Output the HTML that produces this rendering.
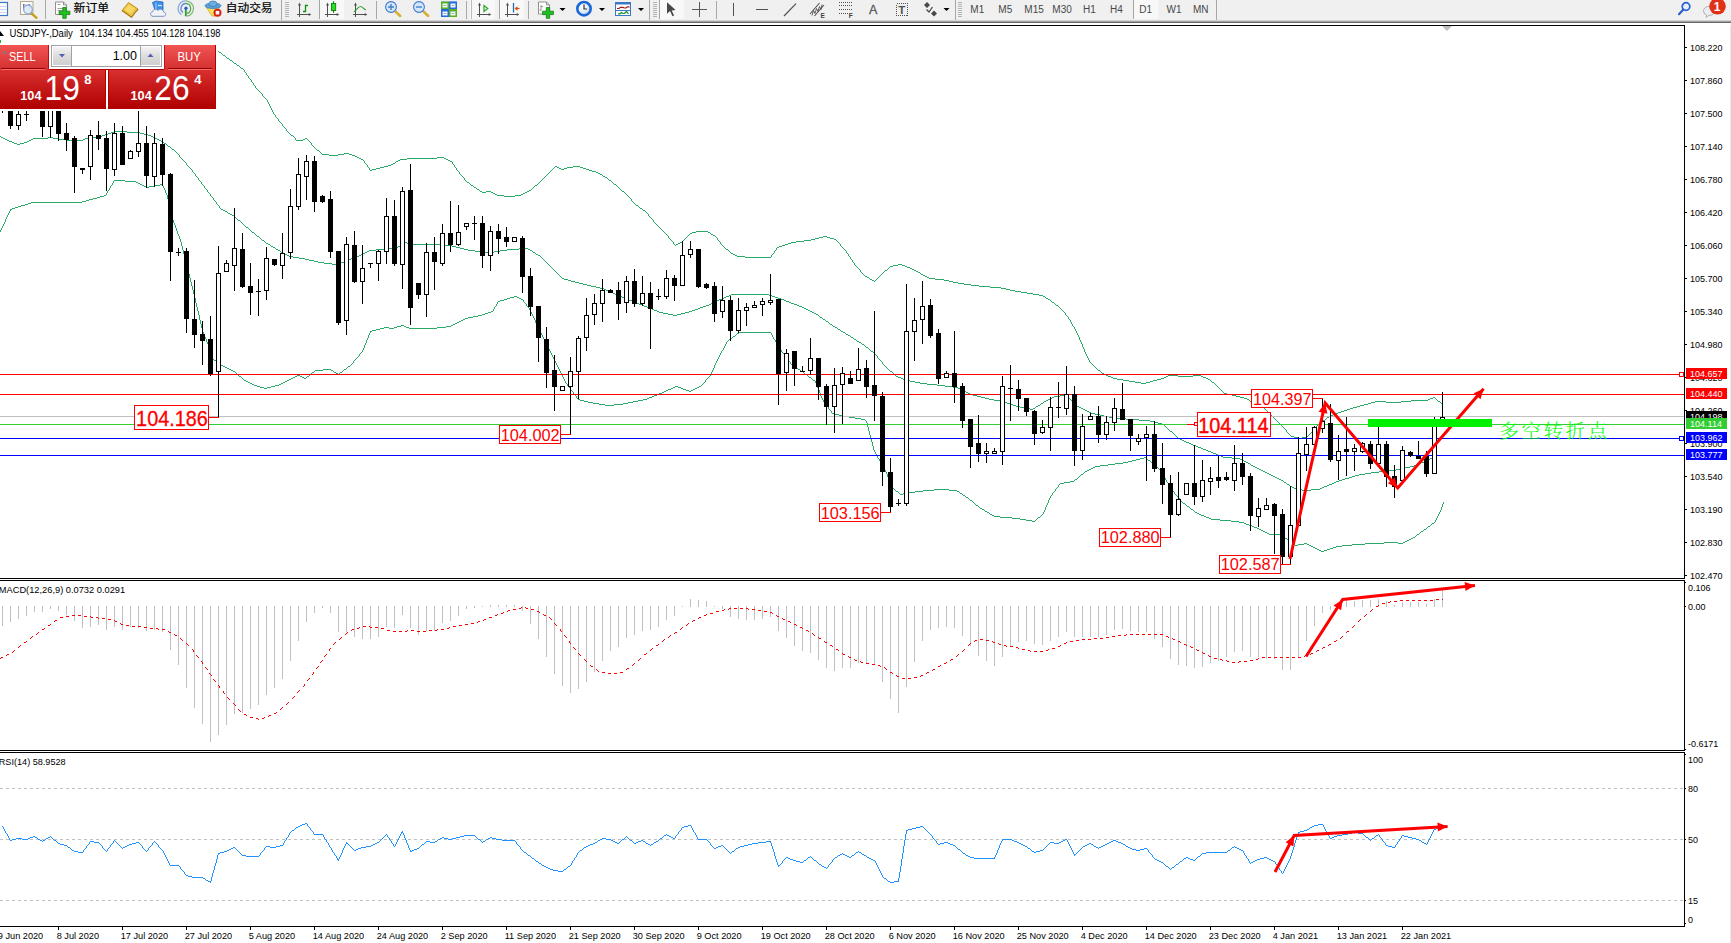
<!DOCTYPE html><html><head><meta charset="utf-8"><title>USDJPY Daily</title>
<style>html,body{margin:0;padding:0;background:#fff;overflow:hidden}body{width:1731px;height:943px;position:relative;font-family:"Liberation Sans", sans-serif}svg{position:absolute;left:0;top:0;display:block}text{font-family:"Liberation Sans", sans-serif}.cj{font-family:"Liberation Sans","Noto Sans CJK SC",sans-serif}.sj{font-family:"Liberation Serif","Noto Serif CJK SC",serif}</style></head><body>
<svg width="1731" height="943" viewBox="0 0 1731 943">
<defs>
<linearGradient id="gsell" x1="0" y1="0" x2="0" y2="1"><stop offset="0" stop-color="#f25454"/><stop offset="1" stop-color="#d32f2f"/></linearGradient>
<linearGradient id="gprice" x1="0" y1="0" x2="0" y2="1"><stop offset="0" stop-color="#d93030"/><stop offset="1" stop-color="#b00000"/></linearGradient>
<linearGradient id="gbtn" x1="0" y1="0" x2="0" y2="1"><stop offset="0" stop-color="#f4f4f4"/><stop offset="0.5" stop-color="#dcdcdc"/><stop offset="1" stop-color="#cfcfcf"/></linearGradient>
<radialGradient id="gclock" cx="0.4" cy="0.35" r="0.7"><stop offset="0" stop-color="#ffffff"/><stop offset="0.6" stop-color="#e0ecf8"/><stop offset="1" stop-color="#9ab8dc"/></radialGradient>
</defs>
<rect x="0" y="0" width="1731" height="943" fill="#fff"/>
<g shape-rendering="crispEdges">
</g>
<path d="M0 .5m215 50h3m-9 1h6m3 0h1m-15 1h5m10 0h2m-23 1h6m17 0h1m-30 1h6m24 0h1m-36 1h5m31 0h2m-44 1h6m38 0h1m-50 1h5m45 0h1m-57 1h6m51 0h2m-65 1h6m59 0h1m-71 1h5m66 0h2m-79 1h6m73 0h1m-88 1h8m80 0h1m-101 1h12m89 0h2m-114 1h11m103 0h1m-127 1h12m115 0h2m-140 1h11m129 0h1m-153 1h12m141 0h1m-166 1h12m154 0h2m-179 1h11m168 0h1m-192 1h12m180 0h1m-204 1h11m192 0h1m-216 1h12m204 0h1m-228 1h11m217 0h1m-241 1h12m228 0h1m-247 1h6m241 0h1m0 1h1m-1 1h1m0 1h1m0 1h1m0 1h1m-1 1h1m0 1h1m0 1h1m-1 1h1m0 1h1m0 1h1m-1 1h1m0 1h1m0 1h1m0 1h1m0 1h1m0 1h1m0 1h1m0 1h1m-1 1h1m0 1h1m0 1h1m0 1h1m0 1h1m0 1h1m-1 1h1m0 1h1m-1 1h1m0 1h1m-1 1h1m0 1h1m-1 1h1m0 1h1m-1 1h1m0 1h1m-1 1h1m0 1h1m-1 1h1m0 1h1m0 1h1m-1 1h1m0 1h1m0 1h1m0 1h1m-1 1h1m0 1h1m0 1h1m0 1h1m0 1h1m-1 1h1m0 1h1m0 1h1m0 1h1m0 1h1m-1 1h1m0 1h1m0 1h1m0 1h1m0 1h1m0 1h2m0 1h1m0 1h1m0 1h1m9 0h2m-12 1h1m7 0h2m2 0h1m-12 1h7m5 0h1m0 1h1m0 1h1m0 1h1m-1 1h1m0 1h1m0 1h1m0 1h1m0 1h1m0 1h1m0 1h2m0 1h1m0 1h1m0 1h1m22 0h5m-27 1h7m9 0h6m5 0h3m-23 1h9m14 0h3m0 1h2m0 1h2m78 0h7m-85 1h2m46 0h30m7 0h2m-85 1h2m37 0h7m39 0h2m-85 1h1m34 0h2m48 0h2m-86 1h1m31 0h2m52 0h2m-88 1h1m30 0h1m56 0h1m-88 1h1m27 0h2m57 0h1m-87 1h1m24 0h2m60 0h1m-87 1h1m20 0h3m63 0h1m-88 1h1m16 0h4m66 0h1m100 0h2m16 0h7m-212 1h1m11 0h4m71 0h1m98 0h1m2 0h2m8 0h6m7 0h3m-214 1h1m6 0h4m76 0h1m96 0h1m5 0h2m3 0h3m16 0h3m-217 1h1m2 0h4m80 0h1m95 0h1m8 0h3m22 0h3m-219 1h2m85 0h1m93 0h1m37 0h3m-134 1h1m91 0h1m41 0h4m-137 1h1m89 0h1m46 0h2m-139 1h1m88 0h1m49 0h2m-140 1h1m86 0h1m52 0h2m-141 1h1m84 0h1m55 0h1m-141 1h1m82 0h1m57 0h2m-142 1h1m80 0h1m60 0h2m-143 1h1m78 0h1m63 0h1m-144 1h1m77 0h1m65 0h1m-144 1h1m75 0h1m67 0h2m-145 1h1m73 0h1m70 0h1m-145 1h2m70 0h1m72 0h1m-144 1h1m68 0h1m74 0h1m-144 1h1m66 0h1m76 0h2m-145 1h2m62 0h2m79 0h1m-144 1h1m60 0h1m82 0h1m-144 1h2m57 0h1m84 0h1m-143 1h1m55 0h1m86 0h1m-143 1h2m52 0h1m88 0h1m-142 1h1m49 0h2m90 0h1m-142 1h2m4 0h5m36 0h2m93 0h2m-142 1h4m5 0h2m32 0h2m97 0h1m-132 1h2m28 0h2m100 0h1m-131 1h2m24 0h2m103 0h1m-130 1h7m11 0h6m106 0h1m-124 1h11m113 0h1m0 1h1m0 1h1m0 1h1m-1 1h1m0 1h1m0 1h1m0 1h1m0 1h1m0 1h2m0 1h1m0 1h1m0 1h2m0 1h1m0 1h2m0 1h1m0 1h1m0 1h1m0 1h1m-1 1h1m0 1h1m0 1h1m0 1h1m0 1h1m0 1h1m-1 1h1m0 1h1m0 1h1m0 1h1m0 1h1m0 1h1m0 1h1m0 1h1m0 1h1m0 1h1m0 1h1m32 0h12m-44 1h1m27 0h4m12 0h2m-45 1h1m24 0h2m18 0h1m-45 1h1m22 0h1m21 0h2m-46 1h1m20 0h1m24 0h2m-47 1h1m18 0h1m27 0h1m107 0h4m-159 1h1m17 0h1m29 0h1m102 0h4m4 0h3m-161 1h1m15 0h1m31 0h1m97 0h4m11 0h4m-164 1h1m13 0h1m32 0h1m93 0h4m19 0h2m-165 1h1m11 0h1m34 0h1m85 0h7m25 0h1m-165 1h1m9 0h1m36 0h1m76 0h8m33 0h1m-165 1h1m6 0h2m38 0h1m70 0h5m42 0h1m-166 1h1m4 0h2m40 0h1m67 0h3m48 0h1m-166 1h1m1 0h2m43 0h1m63 0h3m52 0h1m-166 1h1m46 0h1m59 0h3m55 0h1m-118 1h1m55 0h3m59 0h1m-118 1h1m52 0h2m63 0h1m-118 1h1m50 0h1m66 0h1m-118 1h2m48 0h1m67 0h1m-117 1h1m46 0h1m69 0h1m-117 1h1m44 0h1m71 0h1m-117 1h1m43 0h1m71 0h1m-116 1h2m40 0h1m73 0h1m-115 1h2m37 0h1m75 0h1m-114 1h2m34 0h1m76 0h1m-112 1h8m26 0h1m77 0h1m-105 1h26m79 0h1m-1 1h1m0 1h1m0 1h1m-1 1h1m0 1h1m0 1h1m-1 1h1m43 0h4m-47 1h1m37 0h5m4 0h3m-49 1h1m33 0h3m12 0h2m-50 1h1m31 0h1m17 0h3m-52 1h1m29 0h1m21 0h2m-53 1h1m27 0h1m24 0h2m-54 1h1m24 0h2m27 0h2m-56 1h1m23 0h1m31 0h2m-57 1h1m21 0h1m34 0h2m-58 1h1m19 0h1m37 0h1m-58 1h1m17 0h1m39 0h2m-59 1h1m15 0h1m42 0h2m-60 1h2m12 0h1m45 0h2m-60 1h2m9 0h1m48 0h2m-60 1h1m7 0h1m51 0h6m-65 1h2m4 0h1m58 0h9m-72 1h2m1 0h1m68 0h5m-75 1h1m74 0h4m0 1h5m0 1h6m0 1h7m0 1h8m0 1h11m0 1h11m0 1h5m0 1h4m0 1h5m0 1h6m0 1h6m0 1h6m0 1h6m0 1h4m0 1h2m0 1h1m0 1h2m0 1h2m0 1h1m0 1h1m0 1h2m0 1h1m0 1h1m0 1h2m0 1h1m0 1h1m0 1h1m0 1h1m0 1h1m0 1h1m0 1h1m0 1h1m-1 1h1m0 1h1m0 1h1m0 1h1m-1 1h1m0 1h1m0 1h1m-1 1h1m0 1h1m-1 1h1m0 1h1m-1 1h1m0 1h1m0 1h1m-1 1h1m0 1h1m-1 1h1m0 1h1m-1 1h1m0 1h1m-1 1h1m0 1h1m-1 1h1m0 1h1m-1 1h1m-1 1h1m0 1h1m-1 1h1m0 1h1m-1 1h1m0 1h1m-1 1h1m-1 1h1m0 1h1m-1 1h1m0 1h1m-1 1h1m-1 1h1m0 1h1m-1 1h1m0 1h1m-1 1h1m0 1h1m-1 1h1m0 1h1m-1 1h1m0 1h1m-1 1h1m0 1h1m0 1h1m0 1h1m0 1h1m0 1h1m0 1h1m0 1h1m0 1h1m0 1h2m0 1h1m0 1h1m0 1h2m0 1h2m0 1h2m60 0h10m15 0h8m-93 1h3m55 0h2m10 0h15m8 0h2m-92 1h2m51 0h2m37 0h3m-93 1h4m44 0h3m42 0h2m-91 1h6m34 0h4m47 0h2m-87 1h6m24 0h4m53 0h1m-82 1h6m15 0h3m58 0h1m-77 1h6m5 0h4m62 0h2m-73 1h5m68 0h1m0 1h1m0 1h1m0 1h1m0 1h1m0 1h1m0 1h1m0 1h1m0 1h1m0 1h1m0 1h3m0 1h5m0 1h4m0 1h4m0 1h4m189 0h2m-191 1h3m183 0h3m2 0h1m-189 1h2m179 0h2m6 0h1m-188 1h1m161 0h17m9 0h1m-188 1h2m123 0h11m15 0h10m27 0h2m-188 1h2m117 0h4m11 0h15m39 0h1m-187 1h2m112 0h3m70 0h1m-186 1h4m104 0h4m74 0h1m-183 1h2m98 0h4m-102 1h1m94 0h3m-97 1h1m89 0h4m-93 1h1m85 0h3m-88 1h1m81 0h3m-84 1h1m77 0h3m-80 1h1m73 0h3m-76 1h1m69 0h3m-72 1h1m65 0h3m-68 1h1m62 0h2m-64 1h1m59 0h2m-61 1h1m56 0h2m-58 1h1m53 0h2m-55 1h1m51 0h1m-52 1h1m49 0h1m-50 1h1m46 0h2m-48 1h1m44 0h1m-45 1h1m42 0h1m-43 1h1m40 0h1m-41 1h1m37 0h2m-39 1h1m35 0h1m-36 1h1m33 0h1m-34 1h1m31 0h1m-32 1h1m29 0h1m-30 1h1m27 0h1m-28 1h1m25 0h1m-27 1h1m25 0h1m-26 1h1m23 0h1m-24 1h1m21 0h1m-22 1h1m19 0h1m-20 1h1m17 0h1m-18 1h3m12 0h2m-14 1h4m4 0h4m-8 1h4" fill="none" stroke="#2aa868" stroke-width="1" shape-rendering="crispEdges"/>
<path d="M0 .5m114 131h13m-16 1h3m13 0h13m-32 1h3m29 0h4m-39 1h3m36 0h4m-46 1h3m43 0h3m-151 1h1m96 0h5m49 0h2m-152 1h2m45 0h5m37 0h7m56 0h2m-152 1h2m28 0h15m5 0h6m26 0h5m65 0h2m-152 1h2m24 0h2m26 0h7m17 0h2m72 0h2m-152 1h2m20 0h2m35 0h17m76 0h2m-152 1h3m15 0h2m132 0h2m-151 1h2m10 0h3m136 0h1m-150 1h3m3 0h4m140 0h2m-149 1h3m146 0h1m0 1h1m0 1h2m0 1h1m0 1h1m0 1h2m0 1h1m0 1h1m0 1h1m0 1h1m0 1h1m0 1h1m-1 1h1m0 1h1m0 1h1m0 1h1m0 1h1m0 1h1m0 1h1m0 1h1m-1 1h1m0 1h1m0 1h1m0 1h1m0 1h1m0 1h1m0 1h1m-1 1h1m0 1h1m0 1h1m0 1h1m-1 1h1m0 1h1m0 1h1m0 1h1m-1 1h1m0 1h1m0 1h1m0 1h1m-1 1h1m0 1h1m0 1h1m0 1h1m-1 1h1m0 1h1m0 1h1m0 1h1m-1 1h1m0 1h1m0 1h1m0 1h1m-1 1h1m0 1h1m0 1h1m0 1h1m-1 1h1m0 1h1m0 1h1m0 1h1m-1 1h1m0 1h1m0 1h1m0 1h1m-1 1h1m0 1h1m0 1h2m0 1h2m0 1h2m0 1h1m0 1h2m0 1h2m0 1h2m0 1h1m0 1h1m0 1h1m0 1h1m0 1h2m0 1h1m0 1h1m0 1h1m0 1h1m0 1h1m0 1h1m0 1h2m0 1h1m0 1h1m0 1h1m0 1h1m0 1h2m0 1h1m0 1h1m0 1h1m0 1h2m0 1h1m0 1h1m0 1h1m0 1h2m0 1h1m0 1h1m139 0h2m-141 1h2m135 0h2m2 0h4m-143 1h2m131 0h2m8 0h30m-171 1h1m129 0h1m40 0h11m-181 1h2m125 0h2m52 0h4m-183 1h2m121 0h2m58 0h4m-185 1h1m113 0h7m64 0h4m55 0h9m-252 1h2m98 0h13m75 0h4m39 0h12m9 0h2m-252 1h2m89 0h7m92 0h7m25 0h7m23 0h2m-252 1h1m86 0h2m106 0h10m9 0h6m32 0h1m-252 1h2m82 0h2m118 0h9m39 0h2m-252 1h2m78 0h2m170 0h1m-251 1h2m74 0h2m173 0h2m-251 1h2m70 0h2m177 0h2m-251 1h4m64 0h2m181 0h1m-248 1h6m55 0h3m184 0h1m-243 1h6m46 0h3m188 0h1m-238 1h4m40 0h2m192 0h1m-235 1h5m32 0h3m195 0h1m-231 1h4m26 0h2m199 0h1m-228 1h6m17 0h3m202 0h1m-223 1h8m5 0h4m206 0h1m-216 1h5m211 0h1m0 1h1m0 1h1m0 1h1m0 1h1m0 1h1m0 1h1m0 1h1m0 1h1m0 1h1m0 1h1m0 1h1m0 1h1m0 1h1m0 1h2m0 1h4m0 1h3m0 1h4m0 1h4m0 1h4m0 1h4m0 1h4m0 1h5m0 1h4m0 1h4m0 1h2m0 1h2m0 1h2m0 1h3m0 1h2m0 1h2m114 0h38m-152 1h2m110 0h2m38 0h3m-153 1h3m104 0h3m43 0h3m-153 1h2m100 0h2m49 0h3m-154 1h3m95 0h2m54 0h3m-154 1h2m90 0h3m59 0h3m-155 1h3m85 0h2m65 0h2m-154 1h2m81 0h2m69 0h3m-155 1h3m76 0h2m74 0h2m-154 1h2m72 0h2m78 0h3m-155 1h3m67 0h2m83 0h3m-155 1h2m62 0h3m88 0h2m-155 1h3m56 0h3m93 0h3m-155 1h2m51 0h3m99 0h2m-155 1h3m46 0h2m104 0h2m-154 1h2m41 0h3m108 0h2m-154 1h3m35 0h3m113 0h2m-153 1h2m30 0h3m118 0h2m-153 1h4m22 0h4m123 0h2m-151 1h5m13 0h4m129 0h2m-148 1h5m4 0h4m135 0h2m-145 1h4m141 0h1m0 1h1m0 1h2m0 1h1m0 1h2m0 1h1m0 1h2m0 1h1m0 1h1m0 1h2m0 1h1m0 1h2m0 1h2m0 1h1m0 1h2m0 1h1m0 1h2m0 1h2m0 1h1m0 1h2m0 1h2m0 1h1m0 1h2m0 1h1m0 1h2m0 1h1m0 1h2m0 1h2m0 1h1m0 1h2m0 1h1m0 1h1m0 1h2m0 1h1m0 1h1m0 1h1m0 1h2m0 1h1m0 1h1m0 1h1m0 1h1m0 1h1m-1 1h1m0 1h1m0 1h1m0 1h1m0 1h1m0 1h1m-1 1h1m0 1h1m0 1h1m0 1h1m0 1h1m0 1h1m0 1h1m0 1h1m0 1h2m0 1h1m0 1h1m0 1h1m0 1h1m0 1h2m0 1h3m0 1h2m0 1h3m0 1h4m0 1h5m0 1h5m0 1h7m0 1h10m0 1h8m0 1h8m0 1h5m0 1h2m0 1h2m0 1h2m0 1h2m0 1h2m0 1h2m0 1h3m0 1h4m83 0h7m-90 1h4m73 0h6m7 0h1m-87 1h4m67 0h2m14 0h1m-84 1h4m61 0h2m17 0h1m-81 1h5m54 0h2m20 0h1m-77 1h6m46 0h2m23 0h1m-72 1h4m40 0h2m26 0h1m-69 1h3m36 0h1m29 0h1m-67 1h3m31 0h2m31 0h1m-65 1h3m27 0h1m34 0h1m-63 1h3m22 0h2m36 0h1m-61 1h4m16 0h2m39 0h2m-59 1h5m10 0h1m43 0h2m-56 1h5m3 0h2m46 0h2m-53 1h3m50 0h2m0 1h2m0 1h2m0 1h2m0 1h4m0 1h5m0 1h4m0 1h5m0 1h7m0 1h10m0 1h13m0 1h11m0 1h4m0 1h4m0 1h4m0 1h2m0 1h1m0 1h1m0 1h1m0 1h1m0 1h1m0 1h1m0 1h2m0 1h1m0 1h1m0 1h1m0 1h1m0 1h1m0 1h1m0 1h2m0 1h2m0 1h2m0 1h2m0 1h3m0 1h2m0 1h2m0 1h3m0 1h2m0 1h3m0 1h2m0 1h3m0 1h2m0 1h3m0 1h2m0 1h3m0 1h2m0 1h3m215 0h7m-222 1h2m211 0h2m-213 1h9m200 0h2m-202 1h8m190 0h2m-192 1h2m186 0h2m-188 1h2m182 0h2m-184 1h2m178 0h2m-180 1h2m173 0h3m-176 1h2m169 0h2m-171 1h1m165 0h3m-168 1h2m161 0h2m-163 1h2m155 0h4m-159 1h2m148 0h5m-153 1h2m142 0h4m-146 1h2m135 0h5m-140 1h2m126 0h7m-133 1h2m114 0h10m-124 1h2m104 0h8m-112 1h2m96 0h6m-102 1h2m88 0h6m-94 1h2m82 0h4m-86 1h2m77 0h3m-80 1h2m72 0h3m-75 1h2m66 0h4m-70 1h2m61 0h3m-64 1h2m56 0h3m-59 1h1m52 0h3m-55 1h2m48 0h2m-50 1h1m45 0h2m-47 1h2m40 0h3m-43 1h1m37 0h2m-39 1h2m32 0h3m-35 1h2m28 0h2m-30 1h4m22 0h2m-24 1h4m9 0h9m-18 1h9" fill="none" stroke="#2aa868" stroke-width="1" shape-rendering="crispEdges"/>
<path d="M0 .5m114 180h11m-12 1h1m11 0h11m-23 1h1m22 0h2m-26 1h1m25 0h2m-28 1h1m27 0h2m18 0h3m-52 1h1m30 0h2m10 0h6m2 0h1m-53 1h1m33 0h2m3 0h5m9 0h1m-54 1h1m35 0h3m14 0h1m-55 1h1m54 0h1m-56 1h1m54 0h1m-57 1h1m56 0h1m-59 1h1m57 0h1m-59 1h1m57 0h1m-60 1h1m59 0h1m-61 1h1m59 0h1m-63 1h2m61 0h1m-68 1h4m63 0h1m-71 1h3m67 0h1m-75 1h4m70 0h1m-79 1h4m75 0h1m-83 1h3m79 0h1m-87 1h4m82 0h1m-138 1h51m86 0h1m-141 1h3m138 0h1m-145 1h3m141 0h1m-149 1h4m144 0h1m-152 1h3m148 0h1m-155 1h3m152 0h1m-159 1h3m155 0h1m-161 1h2m158 0h1m-161 1h1m159 0h1m-162 1h1m160 0h1m-162 1h1m161 0h1m-164 1h1m162 0h1m-164 1h1m162 0h1m-165 1h1m163 0h1m-165 1h1m164 0h1m-167 1h1m165 0h1m-167 1h1m165 0h1m-168 1h1m166 0h1m-168 1h1m167 0h1m-169 1h1m167 0h1m-170 1h1m168 0h1m-170 1h1m169 0h1m-172 1h1m170 0h1m-172 1h1m171 0h1m-174 1h1m172 0h1m-174 1h1m172 0h1m-175 1h1m174 0h1m-176 1h1m174 0h1m-177 1h1m175 0h1m-177 1h1m176 0h1m-1 1h1m-1 1h1m0 1h1m-1 1h1m0 1h1m-1 1h1m-1 1h1m0 1h1m-1 1h1m-1 1h1m0 1h1m-1 1h1m-1 1h1m-1 1h1m0 1h1m-1 1h1m-1 1h1m-1 1h1m0 1h1m-1 1h1m-1 1h1m-1 1h1m0 1h1m-1 1h1m-1 1h1m-1 1h1m0 1h1m-1 1h1m-1 1h1m-1 1h1m0 1h1m-1 1h1m-1 1h1m-1 1h1m0 1h1m-1 1h1m-1 1h1m-1 1h1m0 1h1m-1 1h1m-1 1h1m-1 1h1m0 1h1m-1 1h1m-1 1h1m-1 1h1m0 1h1m-1 1h1m-1 1h1m-1 1h1m0 1h1m-1 1h1m-1 1h1m-1 1h1m0 1h1m-1 1h1m-1 1h1m-1 1h1m0 1h1m-1 1h1m-1 1h1m-1 1h1m0 1h1m-1 1h1m-1 1h1m319 0h3m-323 1h1m315 0h4m3 0h2m-324 1h1m311 0h3m9 0h2m-326 1h1m308 0h3m14 0h2m-328 1h1m304 0h4m19 0h1m-329 1h1m302 0h2m23 0h1m-329 1h1m301 0h1m26 0h1m-329 1h1m300 0h1m27 0h1m-330 1h1m299 0h1m29 0h1m-331 1h1m299 0h1m29 0h1m-331 1h1m298 0h1m31 0h1m-331 1h1m296 0h1m33 0h1m-332 1h1m296 0h1m34 0h1m-333 1h1m295 0h1m35 0h1m-333 1h1m295 0h1m36 0h1m-333 1h1m292 0h2m37 0h1m-333 1h1m289 0h3m40 0h1m-334 1h1m286 0h3m43 0h1m-334 1h1m283 0h3m47 0h1m-334 1h1m278 0h4m50 0h1m-334 1h1m273 0h5m55 0h1m-335 1h1m268 0h5m60 0h1m-335 1h1m265 0h3m66 0h1m-336 1h1m263 0h2m69 0h1m-335 1h1m260 0h2m72 0h1m-336 1h1m258 0h2m74 0h1m-336 1h1m256 0h2m76 0h1m-336 1h1m254 0h2m79 0h1m-336 1h1m251 0h2m81 0h1m-336 1h1m199 0h3m47 0h2m84 0h1m-337 1h1m195 0h4m3 0h2m40 0h5m86 0h1m-337 1h1m182 0h5m5 0h3m9 0h3m28 0h9m92 0h1m-337 1h1m177 0h4m5 0h5m15 0h28m101 0h1m-337 1h1m173 0h4m159 0h1m-338 1h1m169 0h4m163 0h1m-338 1h1m167 0h2m168 0h1m-338 1h1m166 0h1m169 0h1m198 0h32m-568 1h1m165 0h1m171 0h1m195 0h2m32 0h1m-568 1h1m164 0h1m171 0h1m194 0h1m34 0h1m-568 1h1m163 0h1m173 0h1m192 0h1m36 0h1m-569 1h1m163 0h1m173 0h1m190 0h2m37 0h1m-568 1h1m162 0h1m174 0h1m188 0h1m40 0h1m-569 1h1m161 0h1m175 0h1m187 0h1m41 0h1m-568 1h1m160 0h1m176 0h1m184 0h2m43 0h1m-569 1h1m159 0h1m177 0h1m183 0h1m46 0h1m-570 1h1m159 0h1m178 0h1m181 0h1m47 0h1m-569 1h1m158 0h1m178 0h1m180 0h1m49 0h1m-570 1h1m157 0h1m180 0h1m179 0h1m49 0h1m-569 1h1m156 0h1m180 0h1m178 0h1m51 0h1m-570 1h1m155 0h1m182 0h1m177 0h1m51 0h1m-570 1h1m155 0h1m182 0h1m176 0h1m53 0h1m-570 1h1m154 0h1m183 0h1m175 0h1m53 0h1m-570 1h1m153 0h1m184 0h1m174 0h1m55 0h1m-571 1h1m153 0h1m185 0h1m173 0h1m56 0h1m-571 1h1m151 0h1m186 0h1m172 0h1m58 0h1m-572 1h1m151 0h1m187 0h1m170 0h1m59 0h1m-572 1h1m150 0h1m188 0h1m170 0h1m60 0h1m-573 1h1m149 0h1m190 0h1m168 0h1m62 0h1m-573 1h1m147 0h1m191 0h1m168 0h1m63 0h1m-574 1h1m147 0h1m192 0h1m166 0h1m64 0h1m-574 1h1m146 0h1m193 0h1m166 0h1m65 0h1m-574 1h1m144 0h1m195 0h1m164 0h1m67 0h1m-575 1h1m143 0h1m196 0h1m164 0h1m68 0h1m-575 1h1m141 0h1m198 0h1m162 0h1m69 0h1m-574 1h2m138 0h1m199 0h1m162 0h1m70 0h1m-573 1h1m136 0h1m201 0h1m160 0h1m72 0h1m-573 1h1m135 0h1m201 0h1m160 0h1m73 0h1m-573 1h2m132 0h1m203 0h1m158 0h1m74 0h1m-571 1h1m130 0h1m204 0h1m158 0h1m75 0h1m-571 1h2m127 0h1m206 0h1m156 0h1m77 0h1m-570 1h2m123 0h2m207 0h1m156 0h1m78 0h2m-570 1h2m120 0h1m210 0h1m155 0h1m80 0h1m-569 1h2m117 0h1m211 0h1m154 0h1m82 0h2m-569 1h2m92 0h8m13 0h2m213 0h1m153 0h1m84 0h2m-569 1h2m82 0h8m8 0h2m10 0h1m215 0h1m152 0h1m87 0h1m-568 1h2m79 0h1m18 0h1m8 0h1m217 0h1m151 0h1m88 0h2m-568 1h1m76 0h2m20 0h2m4 0h2m218 0h1m150 0h1m91 0h1m-568 1h1m74 0h1m24 0h2m1 0h1m221 0h1m149 0h1m92 0h1m-568 1h1m72 0h1m27 0h1m222 0h1m148 0h1m94 0h2m-569 1h1m58 0h3m9 0h1m252 0h1m147 0h1m96 0h1m-569 1h2m54 0h2m3 0h2m5 0h2m253 0h1m146 0h1m98 0h1m-568 1h1m51 0h2m7 0h2m2 0h1m256 0h1m144 0h1m100 0h2m-569 1h1m48 0h2m11 0h2m257 0h1m143 0h1m103 0h1m-569 1h1m45 0h2m273 0h1m141 0h1m105 0h1m-569 1h2m41 0h2m275 0h1m140 0h1m107 0h2m-569 1h2m37 0h2m278 0h1m139 0h1m109 0h1m-568 1h2m33 0h2m280 0h1m138 0h1m110 0h1m-566 1h2m29 0h2m283 0h1m136 0h1m112 0h1m-565 1h2m25 0h2m286 0h1m134 0h1m113 0h1m-563 1h3m18 0h4m288 0h1m133 0h1m115 0h1m-561 1h3m11 0h4m293 0h1m106 0h3m21 0h2m116 0h1m-558 1h4m3 0h4m298 0h1m103 0h2m3 0h3m16 0h2m118 0h1m-554 1h3m303 0h1m100 0h2m8 0h2m12 0h2m121 0h1m-249 1h1m97 0h3m12 0h3m7 0h2m123 0h1m-248 1h1m94 0h2m18 0h3m2 0h2m126 0h1m-248 1h1m91 0h2m23 0h2m128 0h1m-247 1h1m88 0h2m155 0h1m-247 1h1m85 0h3m158 0h1m-247 1h1m82 0h2m161 0h1m-246 1h1m78 0h3m163 0h1m-245 1h1m75 0h2m167 0h1m-246 1h1m72 0h3m169 0h1m-245 1h1m69 0h2m173 0h1m-245 1h2m63 0h4m175 0h1m-243 1h4m54 0h5m180 0h1m-240 1h4m45 0h5m185 0h1m-236 1h5m35 0h5m191 0h1m-232 1h6m24 0h5m197 0h1m-227 1h6m9 0h9m203 0h1m-222 1h9m212 0h1m0 1h1m0 1h1m-1 1h1m0 1h1m0 1h1m0 1h1m-1 1h1m0 1h3m0 1h4m0 1h4m0 1h6m0 1h6m0 1h6m0 1h4m0 1h1m0 1h1m-1 1h1m0 1h1m-1 1h1m-1 1h1m-1 1h1m0 1h1m-1 1h1m-1 1h1m-1 1h1m0 1h1m-1 1h1m-1 1h1m-1 1h1m0 1h1m-1 1h1m-1 1h1m0 1h1m-1 1h1m-1 1h1m-1 1h1m0 1h1m-1 1h1m-1 1h1m-1 1h1m0 1h1m-1 1h1m-1 1h1m-1 1h1m0 1h1m-1 1h1m0 1h1m-1 1h1m0 1h1m-1 1h1m0 1h1m-1 1h1m266 0h2m-268 1h1m261 0h4m2 0h1m-268 1h1m256 0h4m7 0h1m-269 1h1m252 0h4m12 0h2m-270 1h1m247 0h4m18 0h1m-271 1h1m242 0h5m23 0h1m-271 1h1m233 0h8m29 0h1m-271 1h1m225 0h7m38 0h1m-272 1h1m217 0h8m46 0h1m-272 1h1m211 0h5m55 0h1m-273 1h1m209 0h2m61 0h2m-274 1h1m206 0h2m65 0h1m-275 1h1m204 0h2m68 0h1m-275 1h1m201 0h2m71 0h1m-276 1h1m199 0h2m74 0h1m-276 1h1m197 0h1m76 0h1m-276 1h1m196 0h1m78 0h1m-276 1h1m193 0h2m79 0h1m-276 1h1m192 0h1m82 0h1m-277 1h1m191 0h1m83 0h1m-276 1h1m189 0h1m85 0h1m-277 1h1m188 0h1m87 0h1m-277 1h1m185 0h2m88 0h1m-277 1h1m184 0h1m91 0h1m-277 1h1m179 0h4m92 0h1m-277 1h1m173 0h6m97 0h1m-278 1h1m169 0h4m104 0h1m-278 1h1m167 0h1m108 0h1m-278 1h1m166 0h1m110 0h1m-278 1h1m165 0h1m110 0h1m-278 1h1m164 0h1m112 0h1m-278 1h1m162 0h1m113 0h1m-277 1h1m39 0h15m106 0h1m115 0h1m-277 1h1m27 0h11m15 0h8m98 0h1m116 0h1m-277 1h2m17 0h8m34 0h2m95 0h1m118 0h1m-276 1h1m10 0h6m44 0h1m93 0h1m120 0h1m-276 1h1m3 0h6m51 0h2m90 0h1m121 0h1m-275 1h3m59 0h1m89 0h1m122 0h1m-213 1h2m86 0h1m124 0h1m-212 1h1m84 0h1m126 0h1m-212 1h2m82 0h1m127 0h1m-211 1h1m80 0h1m129 0h1m-211 1h1m79 0h1m129 0h1m-210 1h2m76 0h1m131 0h1m-209 1h1m75 0h1m132 0h1m-209 1h1m74 0h1m133 0h1m260 0h1m-470 1h1m72 0h1m135 0h2m258 0h1m-469 1h1m71 0h1m137 0h1m256 0h1m-467 1h2m68 0h1m139 0h1m255 0h1m-465 1h1m67 0h1m140 0h2m253 0h1m-464 1h1m65 0h1m143 0h1m251 0h1m-462 1h2m63 0h1m144 0h1m250 0h1m-460 1h2m61 0h1m145 0h2m248 0h1m-458 1h1m59 0h1m148 0h1m246 0h1m-456 1h2m57 0h1m149 0h1m245 0h1m-454 1h2m54 0h1m151 0h2m242 0h1m-451 1h1m53 0h1m153 0h2m240 0h1m-450 1h2m50 0h1m156 0h2m237 0h1m-447 1h2m47 0h1m159 0h3m234 0h1m-445 1h6m40 0h1m163 0h2m231 0h1m-438 1h12m26 0h2m166 0h3m228 0h1m-426 1h8m17 0h1m171 0h2m225 0h1m-417 1h6m10 0h1m174 0h9m216 0h1m-411 1h6m3 0h1m184 0h11m204 0h1m-404 1h3m196 0h8m196 0h1m-197 1h5m190 0h1m-191 1h2m186 0h2m-188 1h3m182 0h1m-183 1h3m178 0h1m-179 1h2m174 0h2m-176 1h3m170 0h1m-171 1h2m167 0h1m-168 1h2m163 0h2m-165 1h2m160 0h1m-161 1h2m156 0h2m-158 1h2m153 0h1m-154 1h2m150 0h1m-151 1h12m136 0h2m-138 1h2m133 0h1m-134 1h1m131 0h1m-132 1h1m128 0h2m-130 1h2m124 0h2m-126 1h1m121 0h2m-123 1h1m118 0h2m-120 1h2m114 0h2m-116 1h1m92 0h14m5 0h2m-113 1h1m11 0h3m58 0h19m14 0h5m-110 1h2m3 0h6m3 0h2m43 0h13m-70 1h3m11 0h2m31 0h10m-41 1h2m23 0h6m-29 1h2m18 0h3m-21 1h2m13 0h3m-16 1h2m8 0h3m-11 1h2m3 0h3m-6 1h3" fill="none" stroke="#2aa868" stroke-width="1" shape-rendering="crispEdges"/>
<g shape-rendering="crispEdges">
<rect x="0" y="374" width="1684" height="1" fill="#ff0000"/>
<rect x="0" y="394" width="1684" height="1" fill="#ff0000"/>
<rect x="0" y="416" width="1684" height="1" fill="#c0c0c0"/>
<rect x="0" y="424" width="1684" height="1" fill="#32cd32"/>
<rect x="0" y="438" width="1684" height="1" fill="#0000ff"/>
<rect x="0" y="455" width="1684" height="1" fill="#0000ff"/>
<rect x="2" y="100" width="1" height="13" fill="#000"/>
<rect x="0" y="100" width="5" height="1" fill="#000"/>
<rect x="10" y="100" width="1" height="29" fill="#000"/>
<rect x="8" y="100" width="5" height="26" fill="#000"/>
<rect x="18" y="111" width="1" height="19" fill="#000"/>
<rect x="16" y="114" width="5" height="12" fill="#000"/>
<rect x="17" y="115" width="3" height="10" fill="#fff"/>
<rect x="26" y="100" width="1" height="21" fill="#000"/>
<rect x="24" y="114" width="5" height="1" fill="#000"/>
<rect x="42" y="100" width="1" height="37" fill="#000"/>
<rect x="40" y="100" width="5" height="27" fill="#000"/>
<rect x="50" y="100" width="1" height="38" fill="#000"/>
<rect x="48" y="100" width="5" height="27" fill="#000"/>
<rect x="49" y="101" width="3" height="25" fill="#fff"/>
<rect x="58" y="100" width="1" height="41" fill="#000"/>
<rect x="56" y="100" width="5" height="34" fill="#000"/>
<rect x="66" y="123" width="1" height="28" fill="#000"/>
<rect x="64" y="133" width="5" height="7" fill="#000"/>
<rect x="74" y="136" width="1" height="57" fill="#000"/>
<rect x="72" y="138" width="5" height="29" fill="#000"/>
<rect x="82" y="168" width="1" height="6" fill="#000"/>
<rect x="80" y="168" width="5" height="2" fill="#000"/>
<rect x="90" y="130" width="1" height="50" fill="#000"/>
<rect x="88" y="135" width="5" height="32" fill="#000"/>
<rect x="89" y="136" width="3" height="30" fill="#fff"/>
<rect x="98" y="121" width="1" height="29" fill="#000"/>
<rect x="96" y="135" width="5" height="4" fill="#000"/>
<rect x="106" y="131" width="1" height="60" fill="#000"/>
<rect x="104" y="138" width="5" height="31" fill="#000"/>
<rect x="114" y="123" width="1" height="53" fill="#000"/>
<rect x="112" y="133" width="5" height="37" fill="#000"/>
<rect x="113" y="134" width="3" height="35" fill="#fff"/>
<rect x="122" y="126" width="1" height="39" fill="#000"/>
<rect x="120" y="133" width="5" height="32" fill="#000"/>
<rect x="130" y="150" width="1" height="9" fill="#000"/>
<rect x="128" y="151" width="5" height="8" fill="#000"/>
<rect x="129" y="152" width="3" height="6" fill="#fff"/>
<rect x="138" y="111" width="1" height="46" fill="#000"/>
<rect x="136" y="143" width="5" height="9" fill="#000"/>
<rect x="137" y="144" width="3" height="7" fill="#fff"/>
<rect x="146" y="126" width="1" height="62" fill="#000"/>
<rect x="144" y="143" width="5" height="33" fill="#000"/>
<rect x="154" y="133" width="1" height="54" fill="#000"/>
<rect x="152" y="143" width="5" height="34" fill="#000"/>
<rect x="153" y="144" width="3" height="32" fill="#fff"/>
<rect x="162" y="138" width="1" height="48" fill="#000"/>
<rect x="160" y="144" width="5" height="31" fill="#000"/>
<rect x="170" y="173" width="1" height="108" fill="#000"/>
<rect x="168" y="174" width="5" height="78" fill="#000"/>
<rect x="178" y="248" width="1" height="8" fill="#000"/>
<rect x="176" y="252" width="5" height="1" fill="#000"/>
<rect x="186" y="248" width="1" height="85" fill="#000"/>
<rect x="184" y="251" width="5" height="68" fill="#000"/>
<rect x="194" y="280" width="1" height="68" fill="#000"/>
<rect x="192" y="319" width="5" height="16" fill="#000"/>
<rect x="202" y="321" width="1" height="44" fill="#000"/>
<rect x="200" y="334" width="5" height="7" fill="#000"/>
<rect x="210" y="316" width="1" height="60" fill="#000"/>
<rect x="208" y="339" width="5" height="35" fill="#000"/>
<rect x="218" y="246" width="1" height="172" fill="#000"/>
<rect x="216" y="273" width="5" height="99" fill="#000"/>
<rect x="217" y="274" width="3" height="97" fill="#fff"/>
<rect x="226" y="260" width="1" height="12" fill="#000"/>
<rect x="224" y="263" width="5" height="9" fill="#000"/>
<rect x="225" y="264" width="3" height="7" fill="#fff"/>
<rect x="234" y="208" width="1" height="83" fill="#000"/>
<rect x="232" y="248" width="5" height="18" fill="#000"/>
<rect x="233" y="249" width="3" height="16" fill="#fff"/>
<rect x="242" y="233" width="1" height="55" fill="#000"/>
<rect x="240" y="249" width="5" height="38" fill="#000"/>
<rect x="250" y="263" width="1" height="52" fill="#000"/>
<rect x="248" y="286" width="5" height="7" fill="#000"/>
<rect x="258" y="279" width="1" height="37" fill="#000"/>
<rect x="256" y="291" width="5" height="1" fill="#000"/>
<rect x="266" y="247" width="1" height="53" fill="#000"/>
<rect x="264" y="258" width="5" height="33" fill="#000"/>
<rect x="265" y="259" width="3" height="31" fill="#fff"/>
<rect x="274" y="259" width="1" height="7" fill="#000"/>
<rect x="272" y="259" width="5" height="6" fill="#000"/>
<rect x="282" y="233" width="1" height="46" fill="#000"/>
<rect x="280" y="253" width="5" height="13" fill="#000"/>
<rect x="281" y="254" width="3" height="11" fill="#fff"/>
<rect x="290" y="189" width="1" height="70" fill="#000"/>
<rect x="288" y="206" width="5" height="47" fill="#000"/>
<rect x="289" y="207" width="3" height="45" fill="#fff"/>
<rect x="298" y="158" width="1" height="52" fill="#000"/>
<rect x="296" y="174" width="5" height="33" fill="#000"/>
<rect x="297" y="175" width="3" height="31" fill="#fff"/>
<rect x="306" y="155" width="1" height="45" fill="#000"/>
<rect x="304" y="161" width="5" height="16" fill="#000"/>
<rect x="305" y="162" width="3" height="14" fill="#fff"/>
<rect x="314" y="156" width="1" height="56" fill="#000"/>
<rect x="312" y="161" width="5" height="41" fill="#000"/>
<rect x="322" y="195" width="1" height="8" fill="#000"/>
<rect x="320" y="196" width="5" height="6" fill="#000"/>
<rect x="330" y="191" width="1" height="67" fill="#000"/>
<rect x="328" y="199" width="5" height="53" fill="#000"/>
<rect x="338" y="251" width="1" height="74" fill="#000"/>
<rect x="336" y="251" width="5" height="72" fill="#000"/>
<rect x="346" y="237" width="1" height="98" fill="#000"/>
<rect x="344" y="244" width="5" height="77" fill="#000"/>
<rect x="345" y="245" width="3" height="75" fill="#fff"/>
<rect x="354" y="231" width="1" height="52" fill="#000"/>
<rect x="352" y="245" width="5" height="37" fill="#000"/>
<rect x="362" y="245" width="1" height="59" fill="#000"/>
<rect x="360" y="268" width="5" height="14" fill="#000"/>
<rect x="361" y="269" width="3" height="12" fill="#fff"/>
<rect x="370" y="263" width="1" height="5" fill="#000"/>
<rect x="368" y="263" width="5" height="1" fill="#000"/>
<rect x="378" y="250" width="1" height="31" fill="#000"/>
<rect x="376" y="251" width="5" height="13" fill="#000"/>
<rect x="377" y="252" width="3" height="11" fill="#fff"/>
<rect x="386" y="198" width="1" height="66" fill="#000"/>
<rect x="384" y="216" width="5" height="36" fill="#000"/>
<rect x="385" y="217" width="3" height="34" fill="#fff"/>
<rect x="394" y="200" width="1" height="66" fill="#000"/>
<rect x="392" y="216" width="5" height="48" fill="#000"/>
<rect x="402" y="187" width="1" height="102" fill="#000"/>
<rect x="400" y="191" width="5" height="74" fill="#000"/>
<rect x="401" y="192" width="3" height="72" fill="#fff"/>
<rect x="410" y="164" width="1" height="161" fill="#000"/>
<rect x="408" y="190" width="5" height="118" fill="#000"/>
<rect x="418" y="283" width="1" height="16" fill="#000"/>
<rect x="416" y="283" width="5" height="12" fill="#000"/>
<rect x="426" y="243" width="1" height="74" fill="#000"/>
<rect x="424" y="252" width="5" height="43" fill="#000"/>
<rect x="425" y="253" width="3" height="41" fill="#fff"/>
<rect x="434" y="237" width="1" height="53" fill="#000"/>
<rect x="432" y="252" width="5" height="10" fill="#000"/>
<rect x="442" y="224" width="1" height="42" fill="#000"/>
<rect x="440" y="233" width="5" height="31" fill="#000"/>
<rect x="441" y="234" width="3" height="29" fill="#fff"/>
<rect x="450" y="201" width="1" height="51" fill="#000"/>
<rect x="448" y="233" width="5" height="12" fill="#000"/>
<rect x="458" y="205" width="1" height="41" fill="#000"/>
<rect x="456" y="232" width="5" height="13" fill="#000"/>
<rect x="457" y="233" width="3" height="11" fill="#fff"/>
<rect x="466" y="223" width="1" height="7" fill="#000"/>
<rect x="464" y="223" width="5" height="4" fill="#000"/>
<rect x="465" y="224" width="3" height="2" fill="#fff"/>
<rect x="474" y="216" width="1" height="24" fill="#000"/>
<rect x="472" y="223" width="5" height="1" fill="#000"/>
<rect x="482" y="216" width="1" height="52" fill="#000"/>
<rect x="480" y="223" width="5" height="33" fill="#000"/>
<rect x="490" y="226" width="1" height="45" fill="#000"/>
<rect x="488" y="231" width="5" height="25" fill="#000"/>
<rect x="489" y="232" width="3" height="23" fill="#fff"/>
<rect x="498" y="224" width="1" height="30" fill="#000"/>
<rect x="496" y="231" width="5" height="8" fill="#000"/>
<rect x="506" y="227" width="1" height="20" fill="#000"/>
<rect x="504" y="237" width="5" height="5" fill="#000"/>
<rect x="514" y="237" width="1" height="4" fill="#000"/>
<rect x="512" y="237" width="5" height="5" fill="#000"/>
<rect x="513" y="238" width="3" height="3" fill="#fff"/>
<rect x="522" y="236" width="1" height="57" fill="#000"/>
<rect x="520" y="238" width="5" height="39" fill="#000"/>
<rect x="530" y="268" width="1" height="48" fill="#000"/>
<rect x="528" y="276" width="5" height="31" fill="#000"/>
<rect x="538" y="306" width="1" height="56" fill="#000"/>
<rect x="536" y="306" width="5" height="32" fill="#000"/>
<rect x="546" y="327" width="1" height="61" fill="#000"/>
<rect x="544" y="339" width="5" height="34" fill="#000"/>
<rect x="554" y="355" width="1" height="56" fill="#000"/>
<rect x="552" y="370" width="5" height="17" fill="#000"/>
<rect x="562" y="386" width="1" height="5" fill="#000"/>
<rect x="560" y="386" width="5" height="5" fill="#000"/>
<rect x="561" y="387" width="3" height="3" fill="#fff"/>
<rect x="570" y="357" width="1" height="78" fill="#000"/>
<rect x="568" y="371" width="5" height="16" fill="#000"/>
<rect x="569" y="372" width="3" height="14" fill="#fff"/>
<rect x="578" y="336" width="1" height="63" fill="#000"/>
<rect x="576" y="338" width="5" height="34" fill="#000"/>
<rect x="577" y="339" width="3" height="32" fill="#fff"/>
<rect x="586" y="298" width="1" height="53" fill="#000"/>
<rect x="584" y="315" width="5" height="23" fill="#000"/>
<rect x="585" y="316" width="3" height="21" fill="#fff"/>
<rect x="594" y="294" width="1" height="31" fill="#000"/>
<rect x="592" y="303" width="5" height="12" fill="#000"/>
<rect x="593" y="304" width="3" height="10" fill="#fff"/>
<rect x="602" y="279" width="1" height="43" fill="#000"/>
<rect x="600" y="290" width="5" height="14" fill="#000"/>
<rect x="601" y="291" width="3" height="12" fill="#fff"/>
<rect x="610" y="289" width="1" height="4" fill="#000"/>
<rect x="608" y="290" width="5" height="3" fill="#000"/>
<rect x="618" y="282" width="1" height="38" fill="#000"/>
<rect x="616" y="290" width="5" height="14" fill="#000"/>
<rect x="626" y="276" width="1" height="37" fill="#000"/>
<rect x="624" y="281" width="5" height="22" fill="#000"/>
<rect x="625" y="282" width="3" height="20" fill="#fff"/>
<rect x="634" y="269" width="1" height="38" fill="#000"/>
<rect x="632" y="281" width="5" height="23" fill="#000"/>
<rect x="642" y="276" width="1" height="30" fill="#000"/>
<rect x="640" y="293" width="5" height="11" fill="#000"/>
<rect x="641" y="294" width="3" height="9" fill="#fff"/>
<rect x="650" y="282" width="1" height="67" fill="#000"/>
<rect x="648" y="293" width="5" height="16" fill="#000"/>
<rect x="658" y="289" width="1" height="11" fill="#000"/>
<rect x="656" y="296" width="5" height="1" fill="#000"/>
<rect x="666" y="270" width="1" height="29" fill="#000"/>
<rect x="664" y="278" width="5" height="19" fill="#000"/>
<rect x="665" y="279" width="3" height="17" fill="#fff"/>
<rect x="674" y="275" width="1" height="26" fill="#000"/>
<rect x="672" y="278" width="5" height="8" fill="#000"/>
<rect x="682" y="241" width="1" height="45" fill="#000"/>
<rect x="680" y="255" width="5" height="31" fill="#000"/>
<rect x="681" y="256" width="3" height="29" fill="#fff"/>
<rect x="690" y="241" width="1" height="17" fill="#000"/>
<rect x="688" y="249" width="5" height="6" fill="#000"/>
<rect x="689" y="250" width="3" height="4" fill="#fff"/>
<rect x="698" y="249" width="1" height="39" fill="#000"/>
<rect x="696" y="249" width="5" height="38" fill="#000"/>
<rect x="706" y="283" width="1" height="6" fill="#000"/>
<rect x="704" y="284" width="5" height="4" fill="#000"/>
<rect x="714" y="282" width="1" height="40" fill="#000"/>
<rect x="712" y="286" width="5" height="28" fill="#000"/>
<rect x="722" y="286" width="1" height="32" fill="#000"/>
<rect x="720" y="300" width="5" height="12" fill="#000"/>
<rect x="721" y="301" width="3" height="10" fill="#fff"/>
<rect x="730" y="296" width="1" height="45" fill="#000"/>
<rect x="728" y="300" width="5" height="31" fill="#000"/>
<rect x="738" y="298" width="1" height="35" fill="#000"/>
<rect x="736" y="310" width="5" height="21" fill="#000"/>
<rect x="737" y="311" width="3" height="19" fill="#fff"/>
<rect x="746" y="303" width="1" height="23" fill="#000"/>
<rect x="744" y="307" width="5" height="4" fill="#000"/>
<rect x="745" y="308" width="3" height="2" fill="#fff"/>
<rect x="754" y="301" width="1" height="6" fill="#000"/>
<rect x="752" y="305" width="5" height="3" fill="#000"/>
<rect x="753" y="306" width="3" height="1" fill="#fff"/>
<rect x="762" y="298" width="1" height="18" fill="#000"/>
<rect x="760" y="301" width="5" height="4" fill="#000"/>
<rect x="761" y="302" width="3" height="2" fill="#fff"/>
<rect x="770" y="274" width="1" height="31" fill="#000"/>
<rect x="768" y="300" width="5" height="3" fill="#000"/>
<rect x="769" y="301" width="3" height="1" fill="#fff"/>
<rect x="778" y="299" width="1" height="106" fill="#000"/>
<rect x="776" y="299" width="5" height="75" fill="#000"/>
<rect x="786" y="349" width="1" height="42" fill="#000"/>
<rect x="784" y="353" width="5" height="20" fill="#000"/>
<rect x="785" y="354" width="3" height="18" fill="#fff"/>
<rect x="794" y="351" width="1" height="35" fill="#000"/>
<rect x="792" y="351" width="5" height="18" fill="#000"/>
<rect x="802" y="366" width="1" height="5" fill="#000"/>
<rect x="800" y="371" width="5" height="1" fill="#000"/>
<rect x="810" y="338" width="1" height="37" fill="#000"/>
<rect x="808" y="358" width="5" height="13" fill="#000"/>
<rect x="809" y="359" width="3" height="11" fill="#fff"/>
<rect x="818" y="358" width="1" height="42" fill="#000"/>
<rect x="816" y="358" width="5" height="29" fill="#000"/>
<rect x="826" y="384" width="1" height="41" fill="#000"/>
<rect x="824" y="386" width="5" height="21" fill="#000"/>
<rect x="834" y="368" width="1" height="65" fill="#000"/>
<rect x="832" y="385" width="5" height="22" fill="#000"/>
<rect x="833" y="386" width="3" height="20" fill="#fff"/>
<rect x="842" y="367" width="1" height="57" fill="#000"/>
<rect x="840" y="373" width="5" height="12" fill="#000"/>
<rect x="841" y="374" width="3" height="10" fill="#fff"/>
<rect x="850" y="371" width="1" height="13" fill="#000"/>
<rect x="848" y="378" width="5" height="6" fill="#000"/>
<rect x="858" y="348" width="1" height="33" fill="#000"/>
<rect x="856" y="369" width="5" height="12" fill="#000"/>
<rect x="857" y="370" width="3" height="10" fill="#fff"/>
<rect x="866" y="360" width="1" height="38" fill="#000"/>
<rect x="864" y="368" width="5" height="19" fill="#000"/>
<rect x="874" y="311" width="1" height="110" fill="#000"/>
<rect x="872" y="385" width="5" height="11" fill="#000"/>
<rect x="882" y="392" width="1" height="94" fill="#000"/>
<rect x="880" y="396" width="5" height="76" fill="#000"/>
<rect x="890" y="458" width="1" height="55" fill="#000"/>
<rect x="888" y="472" width="5" height="35" fill="#000"/>
<rect x="898" y="499" width="1" height="7" fill="#000"/>
<rect x="896" y="503" width="5" height="1" fill="#000"/>
<rect x="906" y="284" width="1" height="222" fill="#000"/>
<rect x="904" y="331" width="5" height="173" fill="#000"/>
<rect x="905" y="332" width="3" height="171" fill="#fff"/>
<rect x="914" y="298" width="1" height="63" fill="#000"/>
<rect x="912" y="320" width="5" height="12" fill="#000"/>
<rect x="913" y="321" width="3" height="10" fill="#fff"/>
<rect x="922" y="281" width="1" height="63" fill="#000"/>
<rect x="920" y="306" width="5" height="14" fill="#000"/>
<rect x="921" y="307" width="3" height="12" fill="#fff"/>
<rect x="930" y="299" width="1" height="39" fill="#000"/>
<rect x="928" y="305" width="5" height="31" fill="#000"/>
<rect x="938" y="329" width="1" height="55" fill="#000"/>
<rect x="936" y="333" width="5" height="46" fill="#000"/>
<rect x="946" y="371" width="1" height="7" fill="#000"/>
<rect x="944" y="373" width="5" height="5" fill="#000"/>
<rect x="945" y="374" width="3" height="3" fill="#fff"/>
<rect x="954" y="331" width="1" height="72" fill="#000"/>
<rect x="952" y="373" width="5" height="14" fill="#000"/>
<rect x="962" y="383" width="1" height="45" fill="#000"/>
<rect x="960" y="386" width="5" height="35" fill="#000"/>
<rect x="970" y="419" width="1" height="49" fill="#000"/>
<rect x="968" y="419" width="5" height="28" fill="#000"/>
<rect x="978" y="415" width="1" height="47" fill="#000"/>
<rect x="976" y="443" width="5" height="11" fill="#000"/>
<rect x="986" y="443" width="1" height="20" fill="#000"/>
<rect x="984" y="451" width="5" height="3" fill="#000"/>
<rect x="985" y="452" width="3" height="1" fill="#fff"/>
<rect x="994" y="448" width="1" height="5" fill="#000"/>
<rect x="992" y="451" width="5" height="3" fill="#000"/>
<rect x="993" y="452" width="3" height="1" fill="#fff"/>
<rect x="1002" y="376" width="1" height="89" fill="#000"/>
<rect x="1000" y="386" width="5" height="66" fill="#000"/>
<rect x="1001" y="387" width="3" height="64" fill="#fff"/>
<rect x="1010" y="365" width="1" height="56" fill="#000"/>
<rect x="1008" y="388" width="5" height="1" fill="#000"/>
<rect x="1018" y="380" width="1" height="31" fill="#000"/>
<rect x="1016" y="389" width="5" height="10" fill="#000"/>
<rect x="1026" y="398" width="1" height="18" fill="#000"/>
<rect x="1024" y="398" width="5" height="14" fill="#000"/>
<rect x="1034" y="410" width="1" height="35" fill="#000"/>
<rect x="1032" y="411" width="5" height="23" fill="#000"/>
<rect x="1042" y="420" width="1" height="14" fill="#000"/>
<rect x="1040" y="427" width="5" height="6" fill="#000"/>
<rect x="1041" y="428" width="3" height="4" fill="#fff"/>
<rect x="1050" y="397" width="1" height="54" fill="#000"/>
<rect x="1048" y="407" width="5" height="21" fill="#000"/>
<rect x="1049" y="408" width="3" height="19" fill="#fff"/>
<rect x="1058" y="382" width="1" height="36" fill="#000"/>
<rect x="1056" y="407" width="5" height="1" fill="#000"/>
<rect x="1066" y="366" width="1" height="49" fill="#000"/>
<rect x="1064" y="394" width="5" height="15" fill="#000"/>
<rect x="1065" y="395" width="3" height="13" fill="#fff"/>
<rect x="1074" y="386" width="1" height="80" fill="#000"/>
<rect x="1072" y="394" width="5" height="57" fill="#000"/>
<rect x="1082" y="414" width="1" height="46" fill="#000"/>
<rect x="1080" y="426" width="5" height="25" fill="#000"/>
<rect x="1081" y="427" width="3" height="23" fill="#fff"/>
<rect x="1090" y="413" width="1" height="6" fill="#000"/>
<rect x="1088" y="416" width="5" height="4" fill="#000"/>
<rect x="1089" y="417" width="3" height="2" fill="#fff"/>
<rect x="1098" y="406" width="1" height="37" fill="#000"/>
<rect x="1096" y="416" width="5" height="19" fill="#000"/>
<rect x="1106" y="416" width="1" height="24" fill="#000"/>
<rect x="1104" y="422" width="5" height="13" fill="#000"/>
<rect x="1105" y="423" width="3" height="11" fill="#fff"/>
<rect x="1114" y="398" width="1" height="33" fill="#000"/>
<rect x="1112" y="408" width="5" height="15" fill="#000"/>
<rect x="1113" y="409" width="3" height="13" fill="#fff"/>
<rect x="1122" y="383" width="1" height="37" fill="#000"/>
<rect x="1120" y="409" width="5" height="11" fill="#000"/>
<rect x="1130" y="419" width="1" height="32" fill="#000"/>
<rect x="1128" y="419" width="5" height="17" fill="#000"/>
<rect x="1138" y="434" width="1" height="11" fill="#000"/>
<rect x="1136" y="438" width="5" height="4" fill="#000"/>
<rect x="1137" y="439" width="3" height="2" fill="#fff"/>
<rect x="1146" y="426" width="1" height="55" fill="#000"/>
<rect x="1144" y="434" width="5" height="4" fill="#000"/>
<rect x="1145" y="435" width="3" height="2" fill="#fff"/>
<rect x="1154" y="421" width="1" height="51" fill="#000"/>
<rect x="1152" y="434" width="5" height="35" fill="#000"/>
<rect x="1162" y="443" width="1" height="61" fill="#000"/>
<rect x="1160" y="468" width="5" height="17" fill="#000"/>
<rect x="1170" y="475" width="1" height="63" fill="#000"/>
<rect x="1168" y="483" width="5" height="32" fill="#000"/>
<rect x="1178" y="472" width="1" height="44" fill="#000"/>
<rect x="1176" y="499" width="5" height="16" fill="#000"/>
<rect x="1177" y="500" width="3" height="14" fill="#fff"/>
<rect x="1186" y="483" width="1" height="12" fill="#000"/>
<rect x="1184" y="483" width="5" height="12" fill="#000"/>
<rect x="1185" y="484" width="3" height="10" fill="#fff"/>
<rect x="1194" y="445" width="1" height="60" fill="#000"/>
<rect x="1192" y="483" width="5" height="14" fill="#000"/>
<rect x="1202" y="460" width="1" height="42" fill="#000"/>
<rect x="1200" y="480" width="5" height="17" fill="#000"/>
<rect x="1201" y="481" width="3" height="15" fill="#fff"/>
<rect x="1210" y="467" width="1" height="28" fill="#000"/>
<rect x="1208" y="478" width="5" height="4" fill="#000"/>
<rect x="1209" y="479" width="3" height="2" fill="#fff"/>
<rect x="1218" y="456" width="1" height="32" fill="#000"/>
<rect x="1216" y="477" width="5" height="4" fill="#000"/>
<rect x="1226" y="472" width="1" height="9" fill="#000"/>
<rect x="1224" y="477" width="5" height="3" fill="#000"/>
<rect x="1234" y="445" width="1" height="46" fill="#000"/>
<rect x="1232" y="463" width="5" height="18" fill="#000"/>
<rect x="1233" y="464" width="3" height="16" fill="#fff"/>
<rect x="1242" y="453" width="1" height="32" fill="#000"/>
<rect x="1240" y="463" width="5" height="14" fill="#000"/>
<rect x="1250" y="473" width="1" height="58" fill="#000"/>
<rect x="1248" y="476" width="5" height="40" fill="#000"/>
<rect x="1258" y="498" width="1" height="29" fill="#000"/>
<rect x="1256" y="508" width="5" height="9" fill="#000"/>
<rect x="1257" y="509" width="3" height="7" fill="#fff"/>
<rect x="1266" y="498" width="1" height="11" fill="#000"/>
<rect x="1264" y="505" width="5" height="5" fill="#000"/>
<rect x="1265" y="506" width="3" height="3" fill="#fff"/>
<rect x="1274" y="503" width="1" height="51" fill="#000"/>
<rect x="1272" y="504" width="5" height="12" fill="#000"/>
<rect x="1282" y="509" width="1" height="56" fill="#000"/>
<rect x="1280" y="514" width="5" height="43" fill="#000"/>
<rect x="1290" y="486" width="1" height="79" fill="#000"/>
<rect x="1288" y="525" width="5" height="32" fill="#000"/>
<rect x="1289" y="526" width="3" height="30" fill="#fff"/>
<rect x="1298" y="437" width="1" height="89" fill="#000"/>
<rect x="1296" y="453" width="5" height="73" fill="#000"/>
<rect x="1297" y="454" width="3" height="71" fill="#fff"/>
<rect x="1306" y="427" width="1" height="44" fill="#000"/>
<rect x="1304" y="444" width="5" height="11" fill="#000"/>
<rect x="1305" y="445" width="3" height="9" fill="#fff"/>
<rect x="1314" y="426" width="1" height="19" fill="#000"/>
<rect x="1312" y="427" width="5" height="18" fill="#000"/>
<rect x="1313" y="428" width="3" height="16" fill="#fff"/>
<rect x="1322" y="398" width="1" height="35" fill="#000"/>
<rect x="1320" y="421" width="5" height="8" fill="#000"/>
<rect x="1321" y="422" width="3" height="6" fill="#fff"/>
<rect x="1330" y="404" width="1" height="58" fill="#000"/>
<rect x="1328" y="423" width="5" height="37" fill="#000"/>
<rect x="1338" y="435" width="1" height="45" fill="#000"/>
<rect x="1336" y="451" width="5" height="10" fill="#000"/>
<rect x="1337" y="452" width="3" height="8" fill="#fff"/>
<rect x="1346" y="417" width="1" height="59" fill="#000"/>
<rect x="1344" y="449" width="5" height="3" fill="#000"/>
<rect x="1354" y="444" width="1" height="27" fill="#000"/>
<rect x="1352" y="448" width="5" height="4" fill="#000"/>
<rect x="1353" y="449" width="3" height="2" fill="#fff"/>
<rect x="1362" y="442" width="1" height="11" fill="#000"/>
<rect x="1360" y="443" width="5" height="9" fill="#000"/>
<rect x="1361" y="444" width="3" height="7" fill="#fff"/>
<rect x="1370" y="441" width="1" height="28" fill="#000"/>
<rect x="1368" y="444" width="5" height="20" fill="#000"/>
<rect x="1378" y="427" width="1" height="36" fill="#000"/>
<rect x="1376" y="444" width="5" height="20" fill="#000"/>
<rect x="1377" y="445" width="3" height="18" fill="#fff"/>
<rect x="1386" y="441" width="1" height="46" fill="#000"/>
<rect x="1384" y="444" width="5" height="33" fill="#000"/>
<rect x="1394" y="465" width="1" height="33" fill="#000"/>
<rect x="1392" y="476" width="5" height="11" fill="#000"/>
<rect x="1402" y="446" width="1" height="35" fill="#000"/>
<rect x="1400" y="450" width="5" height="31" fill="#000"/>
<rect x="1401" y="451" width="3" height="29" fill="#fff"/>
<rect x="1410" y="451" width="1" height="6" fill="#000"/>
<rect x="1408" y="452" width="5" height="4" fill="#000"/>
<rect x="1418" y="441" width="1" height="18" fill="#000"/>
<rect x="1416" y="456" width="5" height="3" fill="#000"/>
<rect x="1426" y="451" width="1" height="26" fill="#000"/>
<rect x="1424" y="456" width="5" height="18" fill="#000"/>
<rect x="1434" y="417" width="1" height="56" fill="#000"/>
<rect x="1432" y="426" width="5" height="48" fill="#000"/>
<rect x="1433" y="427" width="3" height="46" fill="#fff"/>
<rect x="1442" y="392" width="1" height="27" fill="#000"/>
<rect x="1440" y="417" width="5" height="3" fill="#000"/>
<rect x="1441" y="418" width="3" height="1" fill="#fff"/>
</g>
<text class="sj" x="1499.3" y="438.3" font-size="19.5" font-weight="300" fill="#00ff00" letter-spacing="2.6">多空转折点</text>
<rect x="134.5" y="405.5" width="74" height="24" fill="#fff" stroke="#ff0000" stroke-width="1" shape-rendering="crispEdges"/>
<text transform="translate(137.70,425.8) scale(0.9026,1)" x="-1.76" y="0" font-size="22" fill="#ff0000" stroke="#ff0000" stroke-width="0.3">104.186</text>
<rect x="209" y="417" width="10" height="1" fill="#ff0000" shape-rendering="crispEdges"/>
<rect x="499.5" y="425.5" width="61" height="18" fill="#fff" stroke="#ff0000" stroke-width="1" shape-rendering="crispEdges"/>
<text transform="translate(502.00,441.0) scale(0.9898,1)" x="-1.32" y="0" font-size="16.5" fill="#ff0000">104.002</text>
<rect x="561" y="434" width="10" height="1" fill="#ff0000" shape-rendering="crispEdges"/>
<rect x="819.5" y="503.5" width="61" height="18" fill="#fff" stroke="#ff0000" stroke-width="1" shape-rendering="crispEdges"/>
<text transform="translate(822.00,518.8) scale(0.9898,1)" x="-1.32" y="0" font-size="16.5" fill="#ff0000">103.156</text>
<rect x="881" y="512" width="10" height="1" fill="#ff0000" shape-rendering="crispEdges"/>
<rect x="1099.5" y="528.5" width="61" height="18" fill="#fff" stroke="#ff0000" stroke-width="1" shape-rendering="crispEdges"/>
<text transform="translate(1102.00,543.3) scale(0.9898,1)" x="-1.32" y="0" font-size="16.5" fill="#ff0000">102.880</text>
<rect x="1161" y="537" width="10" height="1" fill="#ff0000" shape-rendering="crispEdges"/>
<rect x="1219.5" y="555.5" width="61" height="18" fill="#fff" stroke="#ff0000" stroke-width="1" shape-rendering="crispEdges"/>
<text transform="translate(1222.00,570.1) scale(0.9898,1)" x="-1.32" y="0" font-size="16.5" fill="#ff0000">102.587</text>
<rect x="1281" y="564" width="10" height="1" fill="#ff0000" shape-rendering="crispEdges"/>
<rect x="1251.5" y="389.5" width="61" height="18" fill="#fff" stroke="#ff0000" stroke-width="1" shape-rendering="crispEdges"/>
<text transform="translate(1254.30,404.8) scale(0.9794,1)" x="-1.32" y="0" font-size="16.5" fill="#ff0000">104.397</text>
<rect x="1313" y="398" width="10" height="1" fill="#ff0000" shape-rendering="crispEdges"/>
<rect x="1197.5" y="412.5" width="73" height="24" fill="#fff" stroke="#ff0000" stroke-width="1" shape-rendering="crispEdges"/>
<text transform="translate(1199.80,432.8) scale(0.9026,1)" x="-1.76" y="0" font-size="22" fill="#ff0000" stroke="#ff0000" stroke-width="0.45">104.114</text>
<rect x="1187" y="424" width="10" height="1" fill="#ff0000" shape-rendering="crispEdges"/>
<rect x="1194.5" y="422.5" width="3" height="3" fill="#fff" stroke="#f00" stroke-width="1" shape-rendering="crispEdges"/>
<polyline fill="none" stroke="#ff0000" stroke-width="3" stroke-linejoin="miter" points="1290.0,559.0 1325.2,403.0 1397.7,488.0 1483.6,388.7"/>
<polygon fill="#ff0000" points="1325.2,403.0 1327.4,413.7 1318.6,411.8"/>
<polygon fill="#ff0000" points="1397.7,488.0 1387.8,483.3 1394.6,477.5"/>
<polygon fill="#ff0000" points="1483.6,388.7 1480.5,399.2 1473.7,393.3"/>
<rect x="1368" y="419" width="124" height="8" fill="#00f000" shape-rendering="crispEdges"/>
<g shape-rendering="crispEdges">
<rect x="0" y="25" width="1685" height="1" fill="#000"/>
<rect x="1684" y="25" width="1" height="554" fill="#000"/><rect x="1684" y="580" width="1" height="171" fill="#000"/><rect x="1684" y="752" width="1" height="175" fill="#000"/>
<rect x="0" y="578" width="1685" height="1" fill="#000"/><rect x="0" y="580" width="1685" height="1" fill="#000"/>
<rect x="0" y="750" width="1685" height="1" fill="#000"/><rect x="0" y="752" width="1685" height="1" fill="#000"/>
<rect x="0" y="926" width="1685" height="1" fill="#000"/>
<rect x="2" y="606" width="1" height="20" fill="#c0c0c0"/>
<rect x="10" y="606" width="1" height="16" fill="#c0c0c0"/>
<rect x="18" y="606" width="1" height="13" fill="#c0c0c0"/>
<rect x="26" y="606" width="1" height="10" fill="#c0c0c0"/>
<rect x="34" y="606" width="1" height="6" fill="#c0c0c0"/>
<rect x="42" y="606" width="1" height="6" fill="#c0c0c0"/>
<rect x="50" y="606" width="1" height="3" fill="#c0c0c0"/>
<rect x="58" y="606" width="1" height="5" fill="#c0c0c0"/>
<rect x="66" y="606" width="1" height="9" fill="#c0c0c0"/>
<rect x="74" y="606" width="1" height="15" fill="#c0c0c0"/>
<rect x="82" y="606" width="1" height="22" fill="#c0c0c0"/>
<rect x="90" y="606" width="1" height="21" fill="#c0c0c0"/>
<rect x="98" y="606" width="1" height="19" fill="#c0c0c0"/>
<rect x="106" y="606" width="1" height="24" fill="#c0c0c0"/>
<rect x="114" y="606" width="1" height="21" fill="#c0c0c0"/>
<rect x="122" y="606" width="1" height="24" fill="#c0c0c0"/>
<rect x="130" y="606" width="1" height="21" fill="#c0c0c0"/>
<rect x="138" y="606" width="1" height="22" fill="#c0c0c0"/>
<rect x="146" y="606" width="1" height="25" fill="#c0c0c0"/>
<rect x="154" y="606" width="1" height="24" fill="#c0c0c0"/>
<rect x="162" y="606" width="1" height="26" fill="#c0c0c0"/>
<rect x="170" y="606" width="1" height="44" fill="#c0c0c0"/>
<rect x="178" y="606" width="1" height="59" fill="#c0c0c0"/>
<rect x="186" y="606" width="1" height="82" fill="#c0c0c0"/>
<rect x="194" y="606" width="1" height="102" fill="#c0c0c0"/>
<rect x="202" y="606" width="1" height="118" fill="#c0c0c0"/>
<rect x="210" y="606" width="1" height="136" fill="#c0c0c0"/>
<rect x="218" y="606" width="1" height="129" fill="#c0c0c0"/>
<rect x="226" y="606" width="1" height="119" fill="#c0c0c0"/>
<rect x="234" y="606" width="1" height="108" fill="#c0c0c0"/>
<rect x="242" y="606" width="1" height="107" fill="#c0c0c0"/>
<rect x="250" y="606" width="1" height="103" fill="#c0c0c0"/>
<rect x="258" y="606" width="1" height="99" fill="#c0c0c0"/>
<rect x="266" y="606" width="1" height="89" fill="#c0c0c0"/>
<rect x="274" y="606" width="1" height="82" fill="#c0c0c0"/>
<rect x="282" y="606" width="1" height="73" fill="#c0c0c0"/>
<rect x="290" y="606" width="1" height="55" fill="#c0c0c0"/>
<rect x="298" y="606" width="1" height="35" fill="#c0c0c0"/>
<rect x="306" y="606" width="1" height="16" fill="#c0c0c0"/>
<rect x="314" y="606" width="1" height="7" fill="#c0c0c0"/>
<rect x="322" y="606" width="1" height="2" fill="#c0c0c0"/>
<rect x="330" y="606" width="1" height="7" fill="#c0c0c0"/>
<rect x="338" y="606" width="1" height="26" fill="#c0c0c0"/>
<rect x="346" y="606" width="1" height="26" fill="#c0c0c0"/>
<rect x="354" y="606" width="1" height="31" fill="#c0c0c0"/>
<rect x="362" y="606" width="1" height="33" fill="#c0c0c0"/>
<rect x="370" y="606" width="1" height="33" fill="#c0c0c0"/>
<rect x="378" y="606" width="1" height="31" fill="#c0c0c0"/>
<rect x="386" y="606" width="1" height="21" fill="#c0c0c0"/>
<rect x="394" y="606" width="1" height="22" fill="#c0c0c0"/>
<rect x="402" y="606" width="1" height="9" fill="#c0c0c0"/>
<rect x="410" y="606" width="1" height="22" fill="#c0c0c0"/>
<rect x="418" y="606" width="1" height="29" fill="#c0c0c0"/>
<rect x="426" y="606" width="1" height="25" fill="#c0c0c0"/>
<rect x="434" y="606" width="1" height="25" fill="#c0c0c0"/>
<rect x="442" y="606" width="1" height="17" fill="#c0c0c0"/>
<rect x="450" y="606" width="1" height="15" fill="#c0c0c0"/>
<rect x="458" y="606" width="1" height="10" fill="#c0c0c0"/>
<rect x="466" y="606" width="1" height="3" fill="#c0c0c0"/>
<rect x="474" y="606" width="1" height="2" fill="#c0c0c0"/>
<rect x="482" y="606" width="1" height="1" fill="#c0c0c0"/>
<rect x="490" y="605" width="1" height="2" fill="#c0c0c0"/>
<rect x="498" y="605" width="1" height="2" fill="#c0c0c0"/>
<rect x="506" y="605" width="1" height="2" fill="#c0c0c0"/>
<rect x="514" y="605" width="1" height="2" fill="#c0c0c0"/>
<rect x="522" y="606" width="1" height="5" fill="#c0c0c0"/>
<rect x="530" y="606" width="1" height="18" fill="#c0c0c0"/>
<rect x="538" y="606" width="1" height="33" fill="#c0c0c0"/>
<rect x="546" y="606" width="1" height="51" fill="#c0c0c0"/>
<rect x="554" y="606" width="1" height="68" fill="#c0c0c0"/>
<rect x="562" y="606" width="1" height="80" fill="#c0c0c0"/>
<rect x="570" y="606" width="1" height="87" fill="#c0c0c0"/>
<rect x="578" y="606" width="1" height="83" fill="#c0c0c0"/>
<rect x="586" y="606" width="1" height="76" fill="#c0c0c0"/>
<rect x="594" y="606" width="1" height="66" fill="#c0c0c0"/>
<rect x="602" y="606" width="1" height="55" fill="#c0c0c0"/>
<rect x="610" y="606" width="1" height="45" fill="#c0c0c0"/>
<rect x="618" y="606" width="1" height="41" fill="#c0c0c0"/>
<rect x="626" y="606" width="1" height="32" fill="#c0c0c0"/>
<rect x="634" y="606" width="1" height="29" fill="#c0c0c0"/>
<rect x="642" y="606" width="1" height="25" fill="#c0c0c0"/>
<rect x="650" y="606" width="1" height="24" fill="#c0c0c0"/>
<rect x="658" y="606" width="1" height="21" fill="#c0c0c0"/>
<rect x="666" y="606" width="1" height="14" fill="#c0c0c0"/>
<rect x="674" y="606" width="1" height="10" fill="#c0c0c0"/>
<rect x="682" y="606" width="1" height="1" fill="#c0c0c0"/>
<rect x="690" y="599" width="1" height="8" fill="#c0c0c0"/>
<rect x="698" y="600" width="1" height="7" fill="#c0c0c0"/>
<rect x="706" y="601" width="1" height="6" fill="#c0c0c0"/>
<rect x="714" y="606" width="1" height="1" fill="#c0c0c0"/>
<rect x="722" y="606" width="1" height="3" fill="#c0c0c0"/>
<rect x="730" y="606" width="1" height="11" fill="#c0c0c0"/>
<rect x="738" y="606" width="1" height="13" fill="#c0c0c0"/>
<rect x="746" y="606" width="1" height="14" fill="#c0c0c0"/>
<rect x="754" y="606" width="1" height="14" fill="#c0c0c0"/>
<rect x="762" y="606" width="1" height="13" fill="#c0c0c0"/>
<rect x="770" y="606" width="1" height="11" fill="#c0c0c0"/>
<rect x="778" y="606" width="1" height="25" fill="#c0c0c0"/>
<rect x="786" y="606" width="1" height="32" fill="#c0c0c0"/>
<rect x="794" y="606" width="1" height="40" fill="#c0c0c0"/>
<rect x="802" y="606" width="1" height="45" fill="#c0c0c0"/>
<rect x="810" y="606" width="1" height="47" fill="#c0c0c0"/>
<rect x="818" y="606" width="1" height="54" fill="#c0c0c0"/>
<rect x="826" y="606" width="1" height="62" fill="#c0c0c0"/>
<rect x="834" y="606" width="1" height="65" fill="#c0c0c0"/>
<rect x="842" y="606" width="1" height="62" fill="#c0c0c0"/>
<rect x="850" y="606" width="1" height="62" fill="#c0c0c0"/>
<rect x="858" y="606" width="1" height="57" fill="#c0c0c0"/>
<rect x="866" y="606" width="1" height="57" fill="#c0c0c0"/>
<rect x="874" y="606" width="1" height="59" fill="#c0c0c0"/>
<rect x="882" y="606" width="1" height="76" fill="#c0c0c0"/>
<rect x="890" y="606" width="1" height="93" fill="#c0c0c0"/>
<rect x="898" y="606" width="1" height="107" fill="#c0c0c0"/>
<rect x="906" y="606" width="1" height="81" fill="#c0c0c0"/>
<rect x="914" y="606" width="1" height="56" fill="#c0c0c0"/>
<rect x="922" y="606" width="1" height="35" fill="#c0c0c0"/>
<rect x="930" y="606" width="1" height="24" fill="#c0c0c0"/>
<rect x="938" y="606" width="1" height="22" fill="#c0c0c0"/>
<rect x="946" y="606" width="1" height="21" fill="#c0c0c0"/>
<rect x="954" y="606" width="1" height="22" fill="#c0c0c0"/>
<rect x="962" y="606" width="1" height="30" fill="#c0c0c0"/>
<rect x="970" y="606" width="1" height="40" fill="#c0c0c0"/>
<rect x="978" y="606" width="1" height="50" fill="#c0c0c0"/>
<rect x="986" y="606" width="1" height="55" fill="#c0c0c0"/>
<rect x="994" y="606" width="1" height="60" fill="#c0c0c0"/>
<rect x="1002" y="606" width="1" height="51" fill="#c0c0c0"/>
<rect x="1010" y="606" width="1" height="41" fill="#c0c0c0"/>
<rect x="1018" y="606" width="1" height="36" fill="#c0c0c0"/>
<rect x="1026" y="606" width="1" height="35" fill="#c0c0c0"/>
<rect x="1034" y="606" width="1" height="38" fill="#c0c0c0"/>
<rect x="1042" y="606" width="1" height="39" fill="#c0c0c0"/>
<rect x="1050" y="606" width="1" height="35" fill="#c0c0c0"/>
<rect x="1058" y="606" width="1" height="31" fill="#c0c0c0"/>
<rect x="1066" y="606" width="1" height="26" fill="#c0c0c0"/>
<rect x="1074" y="606" width="1" height="31" fill="#c0c0c0"/>
<rect x="1082" y="606" width="1" height="31" fill="#c0c0c0"/>
<rect x="1090" y="606" width="1" height="31" fill="#c0c0c0"/>
<rect x="1098" y="606" width="1" height="31" fill="#c0c0c0"/>
<rect x="1106" y="606" width="1" height="29" fill="#c0c0c0"/>
<rect x="1114" y="606" width="1" height="24" fill="#c0c0c0"/>
<rect x="1122" y="606" width="1" height="23" fill="#c0c0c0"/>
<rect x="1130" y="606" width="1" height="25" fill="#c0c0c0"/>
<rect x="1138" y="606" width="1" height="26" fill="#c0c0c0"/>
<rect x="1146" y="606" width="1" height="26" fill="#c0c0c0"/>
<rect x="1154" y="606" width="1" height="33" fill="#c0c0c0"/>
<rect x="1162" y="606" width="1" height="41" fill="#c0c0c0"/>
<rect x="1170" y="606" width="1" height="53" fill="#c0c0c0"/>
<rect x="1178" y="606" width="1" height="59" fill="#c0c0c0"/>
<rect x="1186" y="606" width="1" height="60" fill="#c0c0c0"/>
<rect x="1194" y="606" width="1" height="62" fill="#c0c0c0"/>
<rect x="1202" y="606" width="1" height="61" fill="#c0c0c0"/>
<rect x="1210" y="606" width="1" height="57" fill="#c0c0c0"/>
<rect x="1218" y="606" width="1" height="55" fill="#c0c0c0"/>
<rect x="1226" y="606" width="1" height="51" fill="#c0c0c0"/>
<rect x="1234" y="606" width="1" height="46" fill="#c0c0c0"/>
<rect x="1242" y="606" width="1" height="45" fill="#c0c0c0"/>
<rect x="1250" y="606" width="1" height="51" fill="#c0c0c0"/>
<rect x="1258" y="606" width="1" height="51" fill="#c0c0c0"/>
<rect x="1266" y="606" width="1" height="53" fill="#c0c0c0"/>
<rect x="1274" y="606" width="1" height="53" fill="#c0c0c0"/>
<rect x="1282" y="606" width="1" height="64" fill="#c0c0c0"/>
<rect x="1290" y="606" width="1" height="64" fill="#c0c0c0"/>
<rect x="1298" y="606" width="1" height="51" fill="#c0c0c0"/>
<rect x="1306" y="606" width="1" height="35" fill="#c0c0c0"/>
<rect x="1314" y="606" width="1" height="20" fill="#c0c0c0"/>
<rect x="1322" y="606" width="1" height="7" fill="#c0c0c0"/>
<rect x="1330" y="606" width="1" height="4" fill="#c0c0c0"/>
<rect x="1338" y="605" width="1" height="2" fill="#c0c0c0"/>
<rect x="1346" y="600" width="1" height="7" fill="#c0c0c0"/>
<rect x="1354" y="601" width="1" height="6" fill="#c0c0c0"/>
<rect x="1362" y="600" width="1" height="7" fill="#c0c0c0"/>
<rect x="1370" y="600" width="1" height="7" fill="#c0c0c0"/>
<rect x="1378" y="599" width="1" height="8" fill="#c0c0c0"/>
<rect x="1386" y="601" width="1" height="6" fill="#c0c0c0"/>
<rect x="1394" y="605" width="1" height="2" fill="#c0c0c0"/>
<rect x="1402" y="602" width="1" height="5" fill="#c0c0c0"/>
<rect x="1410" y="602" width="1" height="5" fill="#c0c0c0"/>
<rect x="1418" y="602" width="1" height="5" fill="#c0c0c0"/>
<rect x="1426" y="604" width="1" height="3" fill="#c0c0c0"/>
<rect x="1434" y="599" width="1" height="8" fill="#c0c0c0"/>
<rect x="1442" y="590" width="1" height="17" fill="#c0c0c0"/>
</g>
<path d="M0 .5m1436 599h3m3 0h1m-43 1h3m3 0h3m3 0h3m3 0h3m3 0h3m3 0h3m-43 1h1m3 0h3m-9 1h2m-8 1h3m-7 2h1m-3 1h2m-857 1h1m3 0h1m-7 1h2m5 0h2m201 0h2m3 0h3m3 0h3m3 0h2m-235 1h3m15 0h3m190 0h1m3 0h1m19 0h1m3 0h3m617 0h1m-865 1h2m212 0h2m34 0h3m610 0h1m-865 1h1m29 0h2m177 0h3m45 0h3m603 0h1m-868 1h1m35 0h1m230 0h2m-271 1h2m207 0h3m59 0h1m-276 1h1m45 0h1m162 0h1m659 0h1m-1295 1h3m3 0h3m414 0h2m47 0h2m158 0h2m70 0h1m588 0h1m-1300 1h3m15 0h3m3 0h1m686 0h2m585 0h1m-1305 1h3m28 0h2m3 0h2m391 0h3m57 0h1m149 0h2m-603 1h1m3 0h3m445 0h1m147 0h1m83 0h1m-675 1h3m373 0h2m65 0h1m231 0h2m575 0h1m-1306 1h2m57 0h1m368 0h1m209 0h2m664 0h1m-1306 1h1m60 0h2m361 0h2m212 0h1m95 0h2m568 0h1m-882 1h1m312 0h1m-671 1h1m350 0h3m80 0h1m133 0h1m-639 1h1m70 0h2m342 0h3m87 0h1m131 0h1m106 0h2m-748 1h2m76 0h3m330 0h3m94 0h1m129 0h1m109 0h1m557 0h1m-1223 1h3m3 0h3m222 0h3m3 0h1m83 0h3m897 0h1m-1210 1h3m212 0h1m10 0h2m3 0h3m71 0h1m232 0h1m117 0h2m550 0h1m-1309 1h1m105 0h3m3 0h2m199 0h2m22 0h3m63 0h2m232 0h1m120 0h1m-761 1h2m114 0h1m3 0h3m187 0h2m83 0h1m3 0h3m116 0h1m119 0h1m-330 1h1m35 0h3m17 0h1m3 0h3m15 0h3m3 0h2m123 0h1m245 0h2m-640 1h1m224 0h3m3 0h3m3 0h2m10 0h3m3 0h3m135 0h1m246 0h1m538 0h2m-1311 1h1m130 0h2m176 0h1m327 0h2m669 0h1m-1310 1h1m308 0h1m327 0h1m137 0h1m-777 1h1m137 0h1m170 0h1m467 0h1m312 0h1m3 0h3m3 0h3m3 0h3m3 0h3m3 0h3m3 0h3m-988 1h2m387 0h1m105 0h1m143 0h1m303 0h3m3 0h2m-1094 1h1m532 0h1m103 0h1m442 0h3m51 0h2m174 0h1m-1312 1h1m309 0h1m224 0h1m101 0h1m149 0h1m287 0h3m59 0h1m172 0h1m-1312 1h1m149 0h1m159 0h1m478 0h2m273 0h3m3 0h3m69 0h1m167 0h1m-1160 1h1m157 0h1m324 0h1m315 0h3m99 0h3m3 0h3m82 0h2m-993 1h1m480 0h1m311 0h2m9 0h3m87 0h3m257 0h1m-1311 1h1m542 0h1m92 0h1m161 0h1m149 0h1m17 0h1m77 0h3m105 0h2m154 0h2m-1312 1h2m309 0h1m233 0h1m255 0h2m166 0h2m71 0h1m113 0h1m-995 1h1m147 0h1m235 0h1m399 0h1m27 0h1m65 0h2m-879 1h1m145 0h1m324 0h1m310 0h1m29 0h2m183 0h2m143 0h2m-1311 1h1m167 0h1m467 0h2m172 0h2m136 0h1m35 0h2m54 0h1m125 0h1m141 0h1m-1310 1h1m812 0h1m173 0h1m3 0h3m45 0h2m130 0h1m-1173 1h1m554 0h1m442 0h2m173 0h2m130 0h2m-995 1h1m243 0h1m77 0h1m365 0h1m33 0h3m267 0h1m-1131 1h1m136 0h1m245 0h1m75 0h1m184 0h2m126 0h1m57 0h3m23 0h1m147 0h1m-1183 1h1m178 0h1m135 0h1m320 0h1m187 0h1m124 0h1m64 0h2m16 0h2m149 0h2m118 0h2m-1306 1h1m179 0h1m768 0h1m67 0h1m3 0h3m3 0h3m273 0h1m-1305 1h1m1189 0h1m-625 1h1m67 0h1m195 0h1m360 0h2m106 0h2m-1306 1h2m317 0h1m252 0h1m64 0h2m197 0h2m113 0h1m351 0h1m-1305 1h1m189 0h1m128 0h1m254 0h1m376 0h1m250 0h1m96 0h2m-1110 1h1m126 0h1m523 0h1m107 0h1m252 0h2m93 0h1m-1304 1h2m195 0h1m650 0h2m411 0h3m3 0h3m3 0h3m3 0h3m3 0h3m3 0h3m3 0h3m-1301 1h1m639 0h1m573 0h3m41 0h1m-675 1h1m54 0h1m214 0h1m96 0h2m267 0h2m34 0h2m-936 1h1m262 0h1m52 0h1m216 0h2m93 0h1m271 0h1m3 0h1m23 0h3m-1052 1h1m119 0h1m264 0h1m273 0h1m366 0h2m10 0h2m3 0h3m-1045 1h1m117 0h1m540 0h2m83 0h1m285 0h3m3 0h1m-1037 1h1m431 0h1m231 0h3m75 0h2m-313 1h1m238 0h3m-285 1h1m41 0h1m245 0h2m60 0h1m-623 1h1m272 0h2m287 0h1m57 0h2m-735 1h1m111 0h1m566 0h1m-679 1h1m109 0h1m310 0h2m256 0h1m-679 1h1m388 0h1m29 0h1m259 0h1m46 0h2m-338 1h1m334 0h1m-335 1h1m-286 1h1m288 0h3m15 0h3m267 0h2m35 0h2m-720 1h1m103 0h1m294 0h3m3 0h3m275 0h1m33 0h1m-717 1h1m101 0h1m-102 1h1m684 0h1m24 0h2m-26 1h2m21 0h1m-7 1h3m-608 1h1m592 0h3m3 0h3m-698 1h1m94 0h1m-95 1h1m92 0h1m-93 1h1m88 3h1m-87 1h1m85 0h1m-86 1h1m83 0h1m-85 1h1m79 3h1m-77 1h1m74 0h1m-76 1h1m73 0h1m-74 1h1m69 3h1m-68 1h1m65 0h1m-66 1h1m63 0h1m-64 1h1m58 3h1m-56 1h1m53 0h1m-54 1h1m51 0h1m-52 1h1m46 2h1m-2 1h1m-44 1h1m41 0h1m-42 1h1m0 1h1m35 1h1m-3 1h2m-32 1h2m0 1h1m22 0h2m-3 1h1m-19 1h3m11 0h1m-9 1h2m4 0h2m-6 1h1" fill="none" stroke="#ff0000" stroke-width="1" shape-rendering="crispEdges"/>
<polyline fill="none" stroke="#ff0000" stroke-width="3" stroke-linejoin="miter" points="1306.0,656.5 1342.7,599.5 1475.0,585.5"/>
<polygon fill="#ff0000" points="1342.7,599.5 1341.1,610.3 1333.5,605.5"/>
<polygon fill="#ff0000" points="1475.0,585.5 1465.5,591.0 1464.6,582.1"/>
<g shape-rendering="crispEdges">
<line x1="0" y1="788.5" x2="1684" y2="788.5" stroke="#c0c0c0" stroke-width="1" stroke-dasharray="3,3"/>
<line x1="0" y1="839.5" x2="1684" y2="839.5" stroke="#c0c0c0" stroke-width="1" stroke-dasharray="3,3"/>
<line x1="0" y1="900.5" x2="1684" y2="900.5" stroke="#c0c0c0" stroke-width="1" stroke-dasharray="3,3"/>
</g>
<path d="M0 .5m305 823h2m-5 1h3m2 0h1m1010 0h5m-1023 1h2m5 0h1m380 0h3m623 0h4m5 0h1m-1322 1h1m295 0h2m8 0h1m375 0h4m3 0h1m228 0h3m389 0h2m9 0h1m117 0h2m-1440 1h1m292 0h2m11 0h1m372 0h2m7 0h1m224 0h4m3 0h1m386 0h2m12 0h1m113 0h3m-1438 1h1m291 0h1m14 0h1m370 0h1m10 0h1m219 0h4m8 0h1m384 0h1m14 0h1m111 0h2m-1434 1h1m289 0h1m15 0h1m370 0h1m10 0h1m215 0h4m13 0h1m381 0h2m16 0h1m108 0h2m-1432 1h1m287 0h2m17 0h1m368 0h1m12 0h1m212 0h2m18 0h1m377 0h3m18 0h1m107 0h1m-1429 1h1m285 0h1m20 0h1m89 0h1m276 0h1m13 0h1m212 0h1m20 0h1m372 0h4m22 0h1m106 0h1m-1429 1h1m284 0h1m22 0h1m87 0h2m275 0h1m15 0h1m211 0h1m21 0h1m369 0h2m27 0h1m24 0h6m74 0h1m-1427 1h1m282 0h1m23 0h1m87 0h1m1 0h1m274 0h1m16 0h1m210 0h1m22 0h1m368 0h1m28 0h1m20 0h4m6 0h5m69 0h1m-1426 1h1m281 0h1m24 0h9m63 0h1m13 0h1m2 0h1m262 0h1m10 0h1m17 0h1m209 0h1m24 0h1m366 0h1m30 0h1m13 0h6m15 0h1m14 0h1m52 0h1m-1425 1h1m280 0h1m34 0h1m61 0h1m1 0h1m12 0h1m3 0h1m59 0h11m189 0h2m1 0h2m7 0h1m19 0h1m208 0h1m25 0h1m365 0h1m30 0h1m8 0h5m22 0h1m11 0h2m1 0h1m22 0h2m27 0h1m-1424 1h1m24 0h2m15 0h1m237 0h1m34 0h1m60 0h1m2 0h1m11 0h1m4 0h1m55 0h4m11 0h1m150 0h1m36 0h1m5 0h2m4 0h1m20 0h1m208 0h1m26 0h1m364 0h1m31 0h1m4 0h3m28 0h1m9 0h1m3 0h1m21 0h1m2 0h4m22 0h1m-1423 1h1m21 0h3m2 0h2m11 0h2m1 0h1m235 0h1m36 0h1m58 0h1m4 0h1m10 0h1m4 0h1m37 0h2m12 0h4m16 0h1m13 0h2m133 0h1m1 0h1m34 0h1m8 0h2m2 0h1m21 0h1m207 0h1m26 0h1m363 0h1m32 0h1m2 0h2m32 0h2m6 0h1m5 0h1m20 0h1m6 0h4m18 0h1m-1422 1h1m6 0h6m6 0h2m7 0h1m8 0h2m4 0h1m233 0h1m37 0h1m57 0h1m6 0h1m8 0h1m6 0h1m34 0h2m2 0h4m4 0h4m21 0h1m10 0h2m2 0h4m106 0h4m18 0h1m3 0h1m31 0h2m11 0h2m22 0h1m207 0h1m27 0h1m362 0h1m33 0h2m36 0h1m3 0h2m7 0h1m18 0h1m11 0h4m13 0h1m-1421 1h1m2 0h4m6 0h6m10 0h2m5 0h1m7 0h1m232 0h1m38 0h1m55 0h1m7 0h1m8 0h1m6 0h1m32 0h2m8 0h4m26 0h2m6 0h2m8 0h6m98 0h2m4 0h5m11 0h2m5 0h1m29 0h1m38 0h9m198 0h1m28 0h1m67 0h10m53 0h2m229 0h1m72 0h1m1 0h1m10 0h1m16 0h1m16 0h3m10 0h1m-1420 1h2m28 0h2m1 0h2m9 0h2m58 0h1m170 0h1m40 0h1m53 0h1m9 0h1m6 0h1m8 0h1m30 0h1m42 0h1m4 0h1m16 0h13m83 0h2m11 0h2m8 0h1m8 0h2m9 0h2m15 0h1m48 0h1m196 0h1m30 0h1m66 0h1m9 0h2m49 0h2m2 0h1m45 0h3m179 0h1m74 0h1m11 0h1m16 0h1m19 0h2m7 0h1m-1387 1h1m13 0h1m33 0h4m19 0h1m1 0h1m38 0h1m129 0h1m41 0h1m52 0h1m11 0h1m5 0h1m8 0h1m19 0h4m5 0h2m44 0h1m1 0h2m30 0h1m81 0h1m15 0h2m5 0h1m11 0h1m5 0h3m2 0h2m11 0h2m50 0h1m57 0h5m133 0h1m31 0h1m64 0h1m12 0h3m44 0h2m4 0h1m43 0h2m3 0h2m177 0h1m87 0h1m14 0h1m22 0h1m6 0h1m-1372 1h1m31 0h1m4 0h5m14 0h1m2 0h1m19 0h3m14 0h1m1 0h1m128 0h1m42 0h1m18 0h1m30 0h2m12 0h1m4 0h1m9 0h1m18 0h1m4 0h5m47 0h1m33 0h1m78 0h2m18 0h2m2 0h1m13 0h1m2 0h2m7 0h1m8 0h2m53 0h1m48 0h8m4 0h1m133 0h1m31 0h1m7 0h4m53 0h1m15 0h2m31 0h4m5 0h2m7 0h1m40 0h2m7 0h3m174 0h1m88 0h1m12 0h1m24 0h2m3 0h1m-1370 1h2m29 0h1m9 0h1m12 0h1m4 0h1m14 0h4m3 0h1m12 0h1m3 0h1m126 0h1m44 0h1m17 0h2m27 0h2m15 0h1m3 0h1m10 0h1m16 0h1m91 0h1m76 0h2m22 0h2m15 0h2m10 0h2m5 0h1m56 0h1m41 0h6m13 0h1m132 0h1m32 0h1m2 0h4m4 0h2m50 0h1m18 0h2m28 0h1m4 0h5m9 0h1m20 0h2m16 0h2m12 0h2m171 0h1m90 0h1m11 0h1m26 0h2m1 0h1m-1368 1h4m24 0h1m11 0h1m10 0h1m6 0h1m10 0h3m8 0h1m11 0h1m4 0h1m125 0h1m44 0h1m16 0h1m2 0h1m24 0h2m18 0h1m1 0h1m11 0h1m14 0h2m93 0h1m72 0h3m55 0h2m1 0h2m57 0h1m37 0h4m19 0h1m132 0h1m33 0h2m10 0h3m47 0h1m20 0h2m25 0h1m20 0h1m17 0h2m2 0h2m12 0h2m16 0h2m169 0h1m90 0h1m10 0h1m29 0h1m-1363 1h3m20 0h1m13 0h1m8 0h1m8 0h1m7 0h2m12 0h1m9 0h1m6 0h1m121 0h3m46 0h1m15 0h1m3 0h1m21 0h2m20 0h1m1 0h1m12 0h1m12 0h1m96 0h1m69 0h2m60 0h1m60 0h1m9 0h2m21 0h4m23 0h1m132 0h1m48 0h2m44 0h1m23 0h2m22 0h1m21 0h1m15 0h2m6 0h1m9 0h2m20 0h1m168 0h1m91 0h2m7 0h1m-1329 1h1m18 0h1m15 0h1m7 0h1m9 0h1m4 0h2m15 0h1m7 0h1m7 0h1m107 0h4m6 0h4m49 0h1m14 0h1m5 0h1m15 0h5m23 0h1m13 0h1m11 0h1m98 0h1m66 0h2m124 0h1m5 0h3m2 0h1m16 0h4m28 0h1m130 0h1m51 0h1m43 0h1m25 0h2m19 0h1m23 0h1m12 0h2m9 0h2m5 0h2m23 0h2m106 0h1m59 0h1m93 0h4m3 0h1m-1328 1h2m16 0h1m15 0h1m6 0h1m11 0h1m1 0h2m17 0h1m6 0h1m9 0h1m73 0h2m30 0h1m4 0h6m54 0h1m13 0h1m6 0h1m9 0h5m42 0h1m10 0h1m100 0h1m63 0h2m127 0h1m2 0h2m6 0h1m13 0h2m32 0h1m130 0h1m52 0h1m42 0h1m27 0h1m17 0h1m24 0h1m11 0h1m13 0h2m1 0h2m27 0h2m102 0h2m1 0h2m56 0h1m98 0h3m-1325 1h1m14 0h1m17 0h1m4 0h1m13 0h1m20 0h1m4 0h1m11 0h1m70 0h2m2 0h1m28 0h1m66 0h1m11 0h1m8 0h1m5 0h3m48 0h1m7 0h2m101 0h1m62 0h1m130 0h2m9 0h1m10 0h2m34 0h1m130 0h1m53 0h1m40 0h1m29 0h2m14 0h1m26 0h1m9 0h1m16 0h1m31 0h2m12 0h3m84 0h1m5 0h2m54 0h1m-1223 1h1m12 0h1m19 0h1m2 0h1m36 0h1m3 0h1m12 0h1m67 0h2m5 0h1m27 0h1m66 0h1m11 0h1m9 0h1m2 0h2m51 0h1m4 0h3m104 0h1m60 0h1m143 0h1m8 0h1m37 0h1m129 0h1m54 0h2m38 0h1m31 0h1m12 0h1m27 0h1m8 0h1m51 0h4m4 0h4m3 0h1m82 0h1m8 0h2m52 0h1m-1222 1h2m9 0h1m21 0h1m1 0h1m37 0h1m1 0h1m14 0h1m64 0h2m8 0h1m25 0h1m68 0h1m9 0h1m11 0h2m54 0h1m1 0h2m108 0h1m57 0h2m145 0h1m6 0h1m38 0h1m129 0h1m56 0h1m36 0h1m33 0h1m8 0h3m29 0h1m6 0h1m56 0h4m8 0h1m79 0h2m11 0h2m49 0h1m-1219 1h4m5 0h1m22 0h1m39 0h1m16 0h1m60 0h3m11 0h1m23 0h1m69 0h1m9 0h1m67 0h2m111 0h1m55 0h1m148 0h1m3 0h2m39 0h1m84 0h1m44 0h1m57 0h1m35 0h1m34 0h2m2 0h4m32 0h1m5 0h1m69 0h1m78 0h1m15 0h1m48 0h1m-1215 1h5m80 0h1m56 0h4m15 0h1m21 0h1m71 0h1m8 0h1m181 0h2m52 0h1m150 0h1m1 0h1m42 0h1m81 0h2m1 0h2m42 0h1m58 0h1m34 0h1m36 0h2m37 0h1m3 0h1m71 0h1m56 0h21m16 0h1m48 0h1m-1129 1h1m53 0h2m20 0h1m19 0h1m73 0h1m6 0h1m184 0h1m50 0h1m152 0h1m43 0h1m67 0h1m12 0h1m5 0h1m40 0h1m60 0h2m31 0h1m76 0h1m2 0h1m73 0h1m51 0h4m38 0h1m46 0h1m-1128 1h1m53 0h1m22 0h1m18 0h1m73 0h1m6 0h1m185 0h1m49 0h1m196 0h1m65 0h2m1 0h2m9 0h1m7 0h2m38 0h1m62 0h1m30 0h1m77 0h2m75 0h1m49 0h1m42 0h1m46 0h1m-1127 1h1m51 0h1m24 0h4m13 0h1m75 0h1m4 0h1m187 0h2m46 0h1m197 0h1m63 0h2m5 0h2m5 0h2m10 0h2m36 0h1m63 0h2m27 0h1m78 0h1m77 0h1m47 0h1m44 0h1m45 0h1m-1127 1h1m51 0h1m28 0h13m77 0h1m3 0h1m189 0h1m45 0h1m198 0h1m34 0h1m26 0h1m9 0h2m2 0h1m14 0h1m35 0h1m65 0h2m25 0h1m156 0h1m45 0h2m46 0h1m43 0h1m-1125 1h1m50 0h1m118 0h1m2 0h1m191 0h1m43 0h1m199 0h1m10 0h2m20 0h2m1 0h1m23 0h2m12 0h2m16 0h2m33 0h1m67 0h4m20 0h1m158 0h1m32 0h2m9 0h1m48 0h1m17 0h3m23 0h1m-1125 1h1m50 0h1m119 0h1m1 0h1m192 0h2m40 0h1m200 0h1m9 0h1m2 0h2m17 0h1m4 0h1m21 0h1m34 0h2m31 0h1m71 0h21m159 0h1m29 0h2m2 0h2m6 0h1m50 0h1m12 0h4m3 0h2m21 0h1m-1124 1h1m48 0h1m120 0h2m195 0h1m39 0h1m201 0h1m7 0h1m5 0h3m13 0h1m6 0h1m19 0h1m37 0h2m28 0h1m253 0h2m26 0h1m6 0h3m2 0h1m52 0h1m8 0h3m9 0h2m18 0h1m-1123 1h1m48 0h1m121 0h1m196 0h1m37 0h1m202 0h1m6 0h1m9 0h3m8 0h2m8 0h2m16 0h1m40 0h2m26 0h1m255 0h2m23 0h1m10 0h2m53 0h1m6 0h2m14 0h2m16 0h1m-1122 1h1m47 0h1m319 0h2m34 0h1m203 0h1m5 0h1m13 0h4m3 0h1m12 0h1m15 0h1m42 0h1m25 0h1m257 0h2m19 0h2m67 0h1m3 0h2m18 0h2m13 0h1m-1121 1h1m47 0h1m321 0h1m33 0h1m204 0h1m4 0h1m17 0h3m14 0h1m13 0h1m43 0h1m25 0h1m259 0h2m16 0h1m69 0h1m1 0h2m22 0h1m12 0h1m-1120 1h1m45 0h1m323 0h2m30 0h1m205 0h1m3 0h1m36 0h1m11 0h1m45 0h1m24 0h1m261 0h1m14 0h1m71 0h1m24 0h1m11 0h1m-1119 1h1m45 0h1m325 0h1m29 0h1m205 0h1m2 0h1m38 0h2m8 0h1m46 0h1m24 0h1m262 0h1m11 0h2m98 0h1m10 0h1m-1118 1h9m36 0h1m326 0h2m26 0h1m207 0h2m41 0h1m6 0h1m48 0h1m23 0h1m263 0h1m9 0h1m101 0h1m8 0h1m-1108 1h1m34 0h1m329 0h2m22 0h2m208 0h1m43 0h2m4 0h1m48 0h1m22 0h1m265 0h2m6 0h1m102 0h1m8 0h1m-1107 1h1m33 0h1m331 0h2m19 0h1m256 0h2m1 0h1m50 0h1m21 0h1m267 0h1m3 0h2m104 0h1m6 0h1m-1106 1h1m33 0h1m333 0h2m16 0h1m259 0h1m51 0h1m21 0h1m268 0h1m1 0h1m107 0h1m5 0h1m-1105 1h1m32 0h1m335 0h3m11 0h2m313 0h1m20 0h1m269 0h1m108 0h1m4 0h1m-1103 1h1m30 0h1m339 0h5m5 0h1m315 0h1m20 0h1m379 0h1m3 0h1m-1102 1h1m29 0h1m344 0h5m317 0h1m19 0h1m380 0h1m1 0h1m-1100 1h1m28 0h1m666 0h1m18 0h1m381 0h1m1 0h1m-1100 1h1m27 0h1m668 0h1m17 0h1m382 0h1m-1098 1h1m26 0h1m668 0h1m17 0h1m-714 1h2m24 0h1m669 0h1m16 0h1m-712 1h4m20 0h1m669 0h1m16 0h1m-708 1h11m8 0h1m671 0h1m15 0h1m-697 1h2m6 0h1m672 0h2m12 0h1m-694 1h1m5 0h1m674 0h1m11 0h1m-693 1h2m3 0h1m675 0h1m10 0h1m-691 1h3m677 0h2m4 0h5m-689 1h1m679 0h4" fill="none" stroke="#1e90ff" stroke-width="1" shape-rendering="crispEdges"/>
<polyline fill="none" stroke="#ff0000" stroke-width="3" stroke-linejoin="miter" points="1275.0,872.0 1294.2,835.5 1447.6,826.4"/>
<polygon fill="#ff0000" points="1294.2,835.5 1293.5,846.4 1285.6,842.3"/>
<polygon fill="#ff0000" points="1447.6,826.4 1437.9,831.5 1437.4,822.5"/>
<rect x="1685" y="47" width="2" height="1" fill="#000" shape-rendering="crispEdges"/>
<text transform="translate(1690.1,51.1) scale(0.918,1)" font-size="9.8" fill="#000">108.220</text>
<rect x="1685" y="80" width="2" height="1" fill="#000" shape-rendering="crispEdges"/>
<text transform="translate(1690.1,83.9) scale(0.918,1)" font-size="9.8" fill="#000">107.860</text>
<rect x="1685" y="113" width="2" height="1" fill="#000" shape-rendering="crispEdges"/>
<text transform="translate(1690.1,116.9) scale(0.918,1)" font-size="9.8" fill="#000">107.500</text>
<rect x="1685" y="146" width="2" height="1" fill="#000" shape-rendering="crispEdges"/>
<text transform="translate(1690.1,150.0) scale(0.918,1)" font-size="9.8" fill="#000">107.140</text>
<rect x="1685" y="179" width="2" height="1" fill="#000" shape-rendering="crispEdges"/>
<text transform="translate(1690.1,183.0) scale(0.918,1)" font-size="9.8" fill="#000">106.780</text>
<rect x="1685" y="212" width="2" height="1" fill="#000" shape-rendering="crispEdges"/>
<text transform="translate(1690.1,216.0) scale(0.918,1)" font-size="9.8" fill="#000">106.420</text>
<rect x="1685" y="245" width="2" height="1" fill="#000" shape-rendering="crispEdges"/>
<text transform="translate(1690.1,249.1) scale(0.918,1)" font-size="9.8" fill="#000">106.060</text>
<rect x="1685" y="278" width="2" height="1" fill="#000" shape-rendering="crispEdges"/>
<text transform="translate(1690.1,282.1) scale(0.918,1)" font-size="9.8" fill="#000">105.700</text>
<rect x="1685" y="311" width="2" height="1" fill="#000" shape-rendering="crispEdges"/>
<text transform="translate(1690.1,315.1) scale(0.918,1)" font-size="9.8" fill="#000">105.340</text>
<rect x="1685" y="344" width="2" height="1" fill="#000" shape-rendering="crispEdges"/>
<text transform="translate(1690.1,348.1) scale(0.918,1)" font-size="9.8" fill="#000">104.980</text>
<rect x="1685" y="377" width="2" height="1" fill="#000" shape-rendering="crispEdges"/>
<text transform="translate(1690.1,381.2) scale(0.918,1)" font-size="9.8" fill="#000">104.620</text>
<rect x="1685" y="410" width="2" height="1" fill="#000" shape-rendering="crispEdges"/>
<text transform="translate(1690.1,414.2) scale(0.918,1)" font-size="9.8" fill="#000">104.260</text>
<rect x="1685" y="443" width="2" height="1" fill="#000" shape-rendering="crispEdges"/>
<text transform="translate(1690.1,447.2) scale(0.918,1)" font-size="9.8" fill="#000">103.900</text>
<rect x="1685" y="476" width="2" height="1" fill="#000" shape-rendering="crispEdges"/>
<text transform="translate(1690.1,479.9) scale(0.918,1)" font-size="9.8" fill="#000">103.540</text>
<rect x="1685" y="509" width="2" height="1" fill="#000" shape-rendering="crispEdges"/>
<text transform="translate(1690.1,512.8) scale(0.918,1)" font-size="9.8" fill="#000">103.190</text>
<rect x="1685" y="542" width="2" height="1" fill="#000" shape-rendering="crispEdges"/>
<text transform="translate(1690.1,545.9) scale(0.918,1)" font-size="9.8" fill="#000">102.830</text>
<rect x="1685" y="575" width="2" height="1" fill="#000" shape-rendering="crispEdges"/>
<text transform="translate(1690.1,578.8) scale(0.918,1)" font-size="9.8" fill="#000">102.470</text>
<text transform="translate(1687.9,591.0) scale(0.918,1)" font-size="9.8" fill="#000">0.106</text>
<text transform="translate(1687.9,610.1) scale(0.918,1)" font-size="9.8" fill="#000">0.00</text>
<text transform="translate(1687.9,746.9) scale(0.918,1)" font-size="9.8" fill="#000">-0.6171</text>
<text transform="translate(1687.9,762.9) scale(0.918,1)" font-size="9.8" fill="#000">100</text>
<text transform="translate(1687.9,791.8) scale(0.918,1)" font-size="9.8" fill="#000">80</text>
<text transform="translate(1687.9,842.8) scale(0.918,1)" font-size="9.8" fill="#000">50</text>
<text transform="translate(1687.9,903.8) scale(0.918,1)" font-size="9.8" fill="#000">15</text>
<text transform="translate(1687.9,923.2) scale(0.918,1)" font-size="9.8" fill="#000">0</text>
<rect x="1685" y="582" width="1" height="1" fill="#000" shape-rendering="crispEdges"/>
<rect x="1685" y="606" width="1" height="1" fill="#000" shape-rendering="crispEdges"/>
<rect x="1685" y="749" width="1" height="1" fill="#000" shape-rendering="crispEdges"/>
<rect x="1685" y="754" width="1" height="1" fill="#000" shape-rendering="crispEdges"/>
<rect x="1685" y="788" width="1" height="1" fill="#000" shape-rendering="crispEdges"/>
<rect x="1685" y="839" width="1" height="1" fill="#000" shape-rendering="crispEdges"/>
<rect x="1685" y="900" width="1" height="1" fill="#000" shape-rendering="crispEdges"/>
<rect x="1685" y="923" width="1" height="1" fill="#000" shape-rendering="crispEdges"/>
<rect x="1686" y="368" width="41" height="11" fill="#ff0000" shape-rendering="crispEdges"/>
<text transform="translate(1690.1,376.9) scale(0.918,1)" font-size="9.8" fill="#fff">104.657</text>
<rect x="1686" y="388" width="41" height="11" fill="#ff0000" shape-rendering="crispEdges"/>
<text transform="translate(1690.1,396.9) scale(0.918,1)" font-size="9.8" fill="#fff">104.440</text>
<rect x="1686" y="411" width="41" height="11" fill="#000000" shape-rendering="crispEdges"/>
<text transform="translate(1690.1,419.9) scale(0.918,1)" font-size="9.8" fill="#fff">104.198</text>
<rect x="1686" y="418" width="41" height="11" fill="#32cd32" shape-rendering="crispEdges"/>
<text transform="translate(1690.1,426.9) scale(0.918,1)" font-size="9.8" fill="#fff">104.114</text>
<rect x="1686" y="432" width="41" height="11" fill="#0000ff" shape-rendering="crispEdges"/>
<text transform="translate(1690.1,440.9) scale(0.918,1)" font-size="9.8" fill="#fff">103.962</text>
<rect x="1686" y="449" width="41" height="11" fill="#0000ff" shape-rendering="crispEdges"/>
<text transform="translate(1690.1,457.9) scale(0.918,1)" font-size="9.8" fill="#fff">103.777</text>
<rect x="1679.5" y="372.5" width="4" height="4" fill="#fff" stroke="#f00" stroke-width="1" shape-rendering="crispEdges"/>
<rect x="1679.5" y="436.5" width="4" height="4" fill="#fff" stroke="#00f" stroke-width="1" shape-rendering="crispEdges"/>
<polygon points="1442,26 1452,26 1447,31" fill="#c0c0c0"/>
<text transform="translate(-7.3,938.7) scale(0.937,1)" font-size="9.8" fill="#000">29 Jun 2020</text>
<rect x="58" y="927" width="1" height="3" fill="#000" shape-rendering="crispEdges"/>
<text transform="translate(56.7,938.7) scale(0.937,1)" font-size="9.8" fill="#000">8 Jul 2020</text>
<rect x="122" y="927" width="1" height="3" fill="#000" shape-rendering="crispEdges"/>
<text transform="translate(120.7,938.7) scale(0.937,1)" font-size="9.8" fill="#000">17 Jul 2020</text>
<rect x="186" y="927" width="1" height="3" fill="#000" shape-rendering="crispEdges"/>
<text transform="translate(184.7,938.7) scale(0.937,1)" font-size="9.8" fill="#000">27 Jul 2020</text>
<rect x="250" y="927" width="1" height="3" fill="#000" shape-rendering="crispEdges"/>
<text transform="translate(248.7,938.7) scale(0.937,1)" font-size="9.8" fill="#000">5 Aug 2020</text>
<rect x="314" y="927" width="1" height="3" fill="#000" shape-rendering="crispEdges"/>
<text transform="translate(312.7,938.7) scale(0.937,1)" font-size="9.8" fill="#000">14 Aug 2020</text>
<rect x="378" y="927" width="1" height="3" fill="#000" shape-rendering="crispEdges"/>
<text transform="translate(376.7,938.7) scale(0.937,1)" font-size="9.8" fill="#000">24 Aug 2020</text>
<rect x="442" y="927" width="1" height="3" fill="#000" shape-rendering="crispEdges"/>
<text transform="translate(440.7,938.7) scale(0.937,1)" font-size="9.8" fill="#000">2 Sep 2020</text>
<rect x="506" y="927" width="1" height="3" fill="#000" shape-rendering="crispEdges"/>
<text transform="translate(504.7,938.7) scale(0.937,1)" font-size="9.8" fill="#000">11 Sep 2020</text>
<rect x="570" y="927" width="1" height="3" fill="#000" shape-rendering="crispEdges"/>
<text transform="translate(568.7,938.7) scale(0.937,1)" font-size="9.8" fill="#000">21 Sep 2020</text>
<rect x="634" y="927" width="1" height="3" fill="#000" shape-rendering="crispEdges"/>
<text transform="translate(632.7,938.7) scale(0.937,1)" font-size="9.8" fill="#000">30 Sep 2020</text>
<rect x="698" y="927" width="1" height="3" fill="#000" shape-rendering="crispEdges"/>
<text transform="translate(696.7,938.7) scale(0.937,1)" font-size="9.8" fill="#000">9 Oct 2020</text>
<rect x="762" y="927" width="1" height="3" fill="#000" shape-rendering="crispEdges"/>
<text transform="translate(760.7,938.7) scale(0.937,1)" font-size="9.8" fill="#000">19 Oct 2020</text>
<rect x="826" y="927" width="1" height="3" fill="#000" shape-rendering="crispEdges"/>
<text transform="translate(824.7,938.7) scale(0.937,1)" font-size="9.8" fill="#000">28 Oct 2020</text>
<rect x="890" y="927" width="1" height="3" fill="#000" shape-rendering="crispEdges"/>
<text transform="translate(888.7,938.7) scale(0.937,1)" font-size="9.8" fill="#000">6 Nov 2020</text>
<rect x="954" y="927" width="1" height="3" fill="#000" shape-rendering="crispEdges"/>
<text transform="translate(952.7,938.7) scale(0.937,1)" font-size="9.8" fill="#000">16 Nov 2020</text>
<rect x="1018" y="927" width="1" height="3" fill="#000" shape-rendering="crispEdges"/>
<text transform="translate(1016.7,938.7) scale(0.937,1)" font-size="9.8" fill="#000">25 Nov 2020</text>
<rect x="1082" y="927" width="1" height="3" fill="#000" shape-rendering="crispEdges"/>
<text transform="translate(1080.7,938.7) scale(0.937,1)" font-size="9.8" fill="#000">4 Dec 2020</text>
<rect x="1146" y="927" width="1" height="3" fill="#000" shape-rendering="crispEdges"/>
<text transform="translate(1144.7,938.7) scale(0.937,1)" font-size="9.8" fill="#000">14 Dec 2020</text>
<rect x="1210" y="927" width="1" height="3" fill="#000" shape-rendering="crispEdges"/>
<text transform="translate(1208.7,938.7) scale(0.937,1)" font-size="9.8" fill="#000">23 Dec 2020</text>
<rect x="1274" y="927" width="1" height="3" fill="#000" shape-rendering="crispEdges"/>
<text transform="translate(1272.7,938.7) scale(0.937,1)" font-size="9.8" fill="#000">4 Jan 2021</text>
<rect x="1338" y="927" width="1" height="3" fill="#000" shape-rendering="crispEdges"/>
<text transform="translate(1336.7,938.7) scale(0.937,1)" font-size="9.8" fill="#000">13 Jan 2021</text>
<rect x="1402" y="927" width="1" height="3" fill="#000" shape-rendering="crispEdges"/>
<text transform="translate(1400.7,938.7) scale(0.937,1)" font-size="9.8" fill="#000">22 Jan 2021</text>
<text transform="translate(-1.2,593.2) scale(0.948,1)" font-size="9.8" fill="#000">MACD(12,26,9) 0.0732 0.0291</text>
<text transform="translate(-1.2,765.2) scale(0.93,1)" font-size="9.8" fill="#000">RSI(14) 58.9528</text>
<text transform="translate(9.4,36.9) scale(0.905,1)" font-size="10.5" fill="#000">USDJPY-,Daily</text><text transform="translate(79.3,36.9) scale(0.881,1)" font-size="10.5" fill="#000">104.134 104.455 104.128 104.198</text>
<polygon points="0,31 4,36 0,36" fill="#000"/><rect x="0" y="40" width="1" height="4" fill="#22aa44"/>
<rect x="1730" y="23" width="1" height="920" fill="#e8e8e8" shape-rendering="crispEdges"/>
<g shape-rendering="crispEdges">
<rect x="0" y="43" width="218" height="68" fill="#fff"/>
<rect x="0" y="45" width="49" height="25" fill="url(#gsell)"/>
<rect x="164" y="45" width="52" height="25" fill="url(#gsell)"/>
<rect x="0" y="69" width="106" height="40" fill="url(#gprice)"/>
<rect x="108" y="69" width="108" height="40" fill="url(#gprice)"/>
<rect x="49" y="69" width="115" height="1" fill="#b80000"/>
<rect x="1" y="68" width="44" height="1" fill="#900000"/><rect x="168" y="68" width="44" height="1" fill="#900000"/>
<rect x="1" y="69" width="44" height="1" fill="#ff6868"/><rect x="168" y="69" width="44" height="1" fill="#ff6868"/>
<rect x="105" y="69" width="1" height="40" fill="#b00000"/><rect x="108" y="69" width="1" height="40" fill="#b00000"/><rect x="215" y="45" width="1" height="64" fill="#b00000"/><rect x="48" y="45" width="1" height="24" fill="#c01010"/><rect x="164" y="45" width="1" height="24" fill="#c01010"/>
<rect x="51.5" y="45.500" width="110" height="21" fill="#fff" stroke="#a0a0a8" stroke-width="1"/>
<rect x="53" y="47" width="18" height="18" fill="url(#gbtn)"/><rect x="71" y="46" width="1" height="20" fill="#a0a0a8"/>
<rect x="141" y="47" width="19" height="18" fill="url(#gbtn)"/><rect x="140" y="46" width="1" height="20" fill="#a0a0a8"/>
</g>
<polygon points="59,54 65,54 62,57.500" fill="#5560b0"/><polygon points="147.500,57 153.500,57 150.500,53.500" fill="#5560b0"/>
<text x="137" y="60" font-size="12.500" text-anchor="end" fill="#000">1.00</text>
<text transform="translate(9,61) scale(0.9,1)" font-size="12" fill="#fff">SELL</text><text transform="translate(177.5,61) scale(0.95,1)" font-size="12" fill="#fff">BUY</text>
<text transform="translate(20.3,99.5) scale(1.06,1)" font-size="12" font-weight="bold" fill="#fff">104</text>
<text transform="translate(44.6,99.5) scale(0.92,1)" font-size="34.5" fill="#fff">19</text>
<text x="84.2" y="84" font-size="13" font-weight="bold" fill="#fff">8</text>
<text transform="translate(130.5,99.5) scale(1.06,1)" font-size="12" font-weight="bold" fill="#fff">104</text>
<text transform="translate(154.3,99.5) scale(0.92,1)" font-size="34.5" fill="#fff">26</text>
<text x="194.2" y="84" font-size="13" font-weight="bold" fill="#fff">4</text>
<rect x="3.5" y="51.500" width="2" height="2" fill="none" stroke="#30a0a0" stroke-width="0.8" transform="rotate(45 4.5 52.5)"/>
<g id="toolbar">
<rect x="0" y="0" width="1731" height="20" fill="#f0f0f0" shape-rendering="crispEdges"/>
<rect x="0" y="20" width="1731" height="1" fill="#d4d4d4" shape-rendering="crispEdges"/>
<rect x="0" y="21" width="1731" height="1" fill="#a0a0a0" shape-rendering="crispEdges"/>
<rect x="0" y="22" width="1731" height="1" fill="#696969" shape-rendering="crispEdges"/>
<rect x="0" y="23" width="1731" height="2" fill="#ffffff" shape-rendering="crispEdges"/>
<!-- selected button backgrounds -->
<g shape-rendering="crispEdges" fill="#f8f8f8" stroke="none">
<rect x="320" y="0" width="24" height="19"/><rect x="470" y="0" width="25" height="19"/><rect x="500" y="0" width="24" height="19"/><rect x="660" y="0" width="24" height="19"/><rect x="1134" y="0" width="24" height="19"/>
</g>
<!-- separators -->
<g shape-rendering="crispEdges" fill="#a8a8a8">
<rect x="45" y="0" width="1" height="19"/><rect x="281" y="0" width="1" height="20"/><rect x="376" y="1" width="1" height="18"/><rect x="466" y="1" width="1" height="18"/><rect x="528" y="1" width="1" height="18"/><rect x="649" y="0" width="1" height="20"/><rect x="716" y="1" width="1" height="18"/><rect x="955" y="0" width="1" height="20"/><rect x="1216" y="0" width="1" height="20"/>
</g>
<g shape-rendering="crispEdges" fill="#a4a4a4">
<rect x="319" y="0" width="1" height="19"/><rect x="499" y="0" width="1" height="19"/><rect x="659" y="0" width="1" height="19"/><rect x="1133" y="0" width="1" height="19"/><rect x="471" y="0" width="1" height="19" fill="#bcbcbc"/>
</g>
<!-- grips -->
<g shape-rendering="crispEdges" fill="#b4b4b4">
<path d="M285 2h4v1h-4zM285 4h4v1h-4zM285 6h4v1h-4zM285 8h4v1h-4zM285 10h4v1h-4zM285 12h4v1h-4zM285 14h4v1h-4zM285 16h4v1h-4z"/>
<path d="M653 2h4v1h-4zM653 4h4v1h-4zM653 6h4v1h-4zM653 8h4v1h-4zM653 10h4v1h-4zM653 12h4v1h-4zM653 14h4v1h-4zM653 16h4v1h-4z"/>
<path d="M958 2h4v1h-4zM958 4h4v1h-4zM958 6h4v1h-4zM958 8h4v1h-4zM958 10h4v1h-4zM958 12h4v1h-4zM958 14h4v1h-4zM958 16h4v1h-4z"/>
</g>
<!-- icon1 doc -->
<rect x="-2" y="2.500" width="9.500" height="13" fill="#fff" stroke="#3c78c8" stroke-width="1.200"/>
<path d="M0 6.500h6M0 9.500h6M0 12.500h6" stroke="#c8d4f0" stroke-width="1"/>
<!-- icon2 chart+magnifier -->
<rect x="20.500" y="1.500" width="12.500" height="13" fill="#fbfaf6" stroke="#b0a890" stroke-width="1"/>
<path d="M23.500 4v6M29.500 4v5M23.500 5h2M27.500 5h2" stroke="#707890" stroke-width="1" fill="none"/>
<path d="M31 13l5.500 4.800" stroke="#c8a020" stroke-width="2.400" stroke-linecap="round"/>
<circle cx="28" cy="9.500" r="4.300" fill="#dce8f8" fill-opacity="0.850" stroke="#88a8e0" stroke-width="1.200"/>
<!-- icon3 new order -->
<path d="M55.500 2v12.500h11V5l-3-3z" fill="#fff" stroke="#909090" stroke-width="1"/>
<path d="M63.500 2v3h3" fill="none" stroke="#909090" stroke-width="1"/>
<path d="M57.500 4.500h3M57.500 8.500h6M57.500 10.500h6" stroke="#a0a0a0" stroke-width="1"/>
<path d="M62.800 7.500h3.400v3.700h3.700v3.400h-3.700v3.700h-3.400v-3.700h-3.700v-3.400h3.700z" fill="#20c020" stroke="#108010" stroke-width="0.800"/>
<text class="cj" x="73.500" y="12.300" font-size="11.900" fill="#000" stroke="#000" stroke-width="0.200">新订单</text>
<!-- icon4 gold book -->
<path d="M122 10.500L128.500 2.500L138 9L131.500 17.200z" fill="#ecc040" stroke="#b88818" stroke-width="0.800"/><path d="M124.500 10L129 4.500L135 8.800L130.800 14z" fill="#f6d868"/>
<path d="M123 11.500L131 16.500L137.500 9.500" fill="none" stroke="#f8e090" stroke-width="1"/>
<path d="M122 10.500L131.500 17.200L138 9" fill="none" stroke="#a87810" stroke-width="1.200"/>
<!-- icon5 server+cloud -->
<path d="M152.500 2.500L156 1l7 1v8.500h-8z" fill="#3c90e8" stroke="#2868c0" stroke-width="0.800"/>
<path d="M156 2.500v8" stroke="#a0d0ff" stroke-width="1"/><path d="M158 5.500h4" stroke="#d0e8ff" stroke-width="1.200"/>
<path d="M153 16.300c-3 0-3.300-4.200-.3-4.500c.2-2.800 4-3.400 5.200-1.300c1.500-2.200 5.600-1.400 5.700 1.600c3 .2 2.800 4.200-.2 4.200z" fill="#f0f4fa" stroke="#7088b0" stroke-width="0.900"/>
<!-- icon6 signals -->
<g fill="none" stroke-width="1.300">
<path d="M186 0.800a7.700 7.700 0 0 0 -4.500 14" stroke="#88a8e0"/>
<path d="M186 3.500a5 5 0 0 0 -3 9" stroke="#6088d8"/>
<path d="M186 0.800a7.700 7.700 0 0 1 1 15.300" stroke="#78b878"/>
<path d="M186 3.500a5 5 0 0 1 1 9.800" stroke="#58a858"/>
</g>
<path d="M185.800 8.500v7.800" stroke="#28a028" stroke-width="1.800"/>
<circle cx="186" cy="8.300" r="1.700" fill="#3060d0"/>
<!-- icon7 autotrading -->
<path d="M206.500 7.500l5.500 8.500h4l3-8.500z" fill="#f8e060" stroke="#d0a820" stroke-width="0.800"/>
<ellipse cx="213" cy="5.800" rx="8" ry="2.800" fill="#58a0d8" stroke="#3878b0" stroke-width="0.700"/>
<ellipse cx="213" cy="3.800" rx="4" ry="2.800" fill="#68b0e0" stroke="#3878b0" stroke-width="0.700"/>
<circle cx="217.500" cy="12.700" r="4" fill="#d82010"/>
<rect x="215.700" y="10.900" width="3.600" height="3.600" fill="#fff"/>
<text class="cj" x="225.800" y="12.300" font-size="11.700" fill="#000" stroke="#000" stroke-width="0.200">自动交易</text>

<!-- axes icons -->
<g fill="none" stroke="#505050" stroke-width="1" shape-rendering="crispEdges">
<path d="M299.500 4v13M297 14.500h12"/><path d="M327.500 4v13M325 14.500h12"/><path d="M355.500 4v13M353 14.500h12"/><path d="M479.500 4v13M477 14.500h12"/><path d="M507.500 4v13M505 14.500h12"/>
</g>
<g fill="#505050"><path d="M298.0 5.500l1.500-3l1.500 3zM308.7 13l2.600 1.500l-2.600 1.500z"/><path d="M326.0 5.500l1.500-3l1.500 3zM336.7 13l2.600 1.500l-2.600 1.500z"/><path d="M354.0 5.500l1.500-3l1.500 3zM364.7 13l2.600 1.500l-2.600 1.500z"/><path d="M478.0 5.500l1.500-3l1.500 3zM488.7 13l2.600 1.500l-2.600 1.500z"/><path d="M506.0 5.500l1.500-3l1.500 3zM516.7 13l2.600 1.500l-2.600 1.500z"/></g>
<path d="M303 11.500h2.500v-6h2.500" fill="none" stroke="#109010" stroke-width="1.300"/>
<path d="M333.500 1.300v11.500" stroke="#108010" stroke-width="1.200"/><rect x="331.500" y="3.500" width="4.200" height="7" fill="#20e020" stroke="#108010" stroke-width="0.900"/>
<path d="M354 11.800c2.500-1.500 4-5.300 6.500-5.300c2 0 3 2.500 5.300 3.500" fill="none" stroke="#30a030" stroke-width="1.200"/>
<!-- zoom icons -->
<path d="M395.500 11.500l4.700 4.500" stroke="#d8b030" stroke-width="2.500" stroke-linecap="round"/><path d="M423.500 11.500l4.700 4.500" stroke="#d8b030" stroke-width="2.500" stroke-linecap="round"/>
<circle cx="391" cy="7" r="5.400" fill="#d4e6f8" stroke="#3878d0" stroke-width="1.100"/><circle cx="419" cy="7" r="5.400" fill="#d4e6f8" stroke="#3878d0" stroke-width="1.100"/>
<path d="M388 7h6M391 4v6" stroke="#4080c8" stroke-width="1.400"/><path d="M416 7h6" stroke="#4080c8" stroke-width="1.400"/>
<!-- tile -->
<rect x="441" y="1" width="8" height="8" fill="#58b020"/><rect x="449" y="1" width="8" height="8" fill="#2868e0"/><rect x="441" y="9" width="8" height="8" fill="#2868e0"/><rect x="449" y="9" width="8" height="8" fill="#58b020"/>
<g fill="#f4f8ff"><rect x="442.500" y="3.500" width="5" height="4"/><rect x="450.500" y="3.500" width="5" height="4"/><rect x="442.500" y="11.500" width="5" height="4"/><rect x="450.500" y="11.500" width="5" height="4"/></g><path d="M443.500 5.500h3M451.500 5.500h3M443.500 13.500h3M451.500 13.500h3" stroke="#90c0a0" stroke-width="1"/><path d="M441 1.500h16" stroke="#a0c8f0" stroke-width="0.600"/>
<!-- autoscroll & shift -->
<path d="M484 5.500v6l3.700-3z" fill="none" stroke="#30a830" stroke-width="1.300"/>
<path d="M513.500 3v9.500" stroke="#2070b0" stroke-width="1.300"/><path d="M519.500 8.500h-4" stroke="#d85010" stroke-width="1.200"/><path d="M514.500 8.500l3-2.300v4.600z" fill="#d85010"/>
<!-- doc plus 2 -->
<path d="M538.500 2v12h11V5l-3-3z" fill="#fff" stroke="#909090" stroke-width="1"/><path d="M546.500 2v3h3" fill="none" stroke="#909090"/><path d="M541 5v6M541 6.500h2M541 10h-1.500" stroke="#a09880" stroke-width="1" fill="none"/>
<path d="M546.300 7.500h3.400v3.700h3.700v3.400h-3.700v3.700h-3.400v-3.700h-3.700v-3.400h3.700z" fill="#20c020" stroke="#108010" stroke-width="0.800"/>
<g fill="#000"><path d="M559.500 8h6l-3 3zM599 8h6l-3 3zM638 8h6l-3 3zM943.500 8h6l-3 3z"/></g>
<!-- clock -->
<circle cx="584" cy="8.700" r="6.700" fill="url(#gclock)" stroke="#1c68d4" stroke-width="2.600"/>
<path d="M584 4.500v4.500h3" fill="none" stroke="#303030" stroke-width="1.200"/>
<!-- indicators -->
<rect x="615.500" y="2.500" width="15" height="13" fill="#fff" stroke="#3c78c8" stroke-width="1"/><rect x="615" y="2" width="16" height="2.500" fill="#3c78c8"/><path d="M615 10.500h16" stroke="#3c78c8" stroke-width="1"/>
<path d="M617 8.500h2l1.500-1.200h2.500l1 .7h2l1.500-1.200h2" fill="none" stroke="#a01818" stroke-width="1.200"/>
<path d="M618 13.800h2l1.500-1.300l1.500 1h1.500l2-2l2 2.300" fill="none" stroke="#189030" stroke-width="1.200"/>
<!-- cursor & crosshair -->
<path d="M667 2.200v11.500l3-2.600l2.500 5.200l1.600-.8l-2.400-5l3.900-.4z" fill="#484848"/>
<path d="M692 9.500h15M699.500 2.300v14.500" stroke="#585858" stroke-width="1" shape-rendering="crispEdges"/>
<!-- line tools -->
<path d="M733.500 3v13M756 9.500h12" stroke="#505050" stroke-width="1.200" shape-rendering="crispEdges"/>
<path d="M784 16L796 3.700" stroke="#505050" stroke-width="1.200"/>
<path d="M810 14L819.500 3M814.500 16L824 5" stroke="#505050" stroke-width="1.100"/>
<path d="M812 15.500l1.500-5l1.500 3l1.500-5l1.500 3l1.500-5l1.500 3l1-5" fill="none" stroke="#505050" stroke-width="0.900"/>
<text x="820.500" y="17.500" font-size="6.500" font-weight="bold" fill="#404040">E</text>
<path d="M839 2.500h13M839 5.500h13M839 9.500h13M839 13.500h9" stroke="#505050" stroke-width="1" stroke-dasharray="1,1" shape-rendering="crispEdges"/>
<text x="848.800" y="17.500" font-size="6.500" font-weight="bold" fill="#404040">F</text>
<text x="869" y="13.800" font-size="12.500" fill="#585858" stroke="#585858" stroke-width="0.300">A</text>
<rect x="896.500" y="3.500" width="11" height="12" fill="none" stroke="#505050" stroke-width="1" stroke-dasharray="1,1" shape-rendering="crispEdges"/>
<text x="898.300" y="13.800" font-size="11.500" font-weight="bold" fill="#505050">T</text>
<path d="M927 2l3 3l-3 3l-3-3zM934 10.500l3 3l-3 3l-3-3z" fill="#484848"/><path d="M926.500 9.500l2.500 2.500l3.500-5" fill="none" stroke="#484848" stroke-width="1.300"/>
<!-- timeframes -->
<g font-size="10" fill="#484848">
<text x="970.300" y="13">M1</text><text x="998.300" y="13">M5</text><text x="1024.300" y="13">M15</text><text x="1052.300" y="13">M30</text><text x="1083" y="13">H1</text><text x="1110" y="13">H4</text><text x="1139.300" y="13">D1</text><text x="1166.500" y="13">W1</text><text x="1193" y="13">MN</text>
</g>
<!-- search + chat -->
<circle cx="1686" cy="6.500" r="3.800" fill="#e8f0fc" stroke="#2860d0" stroke-width="1.700"/><path d="M1683.300 9.500l-4.300 4.700" stroke="#2860d0" stroke-width="2.200" stroke-linecap="round"/>
<path d="M1703.500 10.500a5.800 4.500 0 1 1 5.500 4.800l-2.800 2l.3-2.300a5.500 4.500 0 0 1 -3-4.500z" fill="#eceef4" stroke="#a8a8a8" stroke-width="0.900"/>
<circle cx="1717.500" cy="6.300" r="8.300" fill="#e03018"/>
<text x="1717" y="10.800" font-size="12" font-weight="bold" fill="#fff" text-anchor="middle">1</text>
</g>

</svg></body></html>
